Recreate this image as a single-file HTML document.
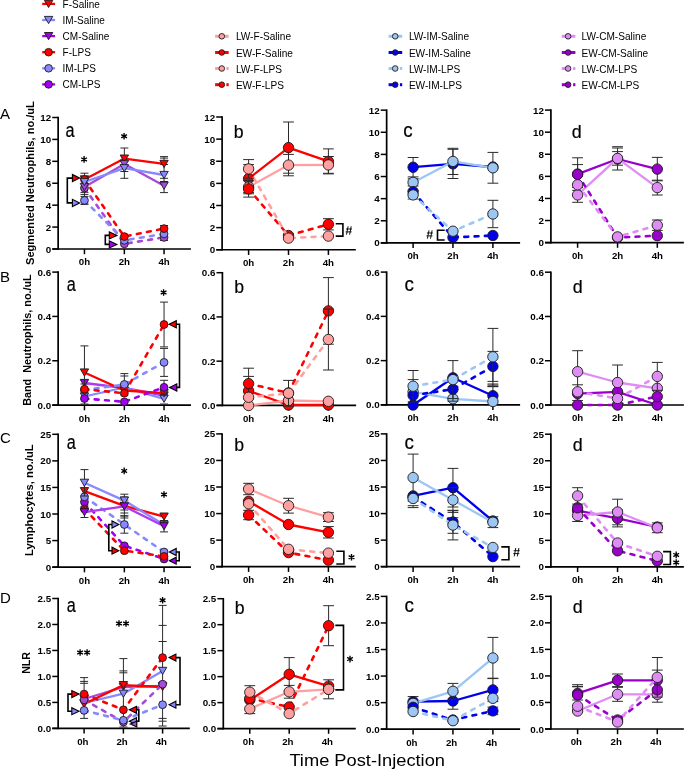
<!DOCTYPE html>
<html><head><meta charset="utf-8"><style>
html,body{margin:0;padding:0;background:#fff;}
body{width:685px;height:770px;overflow:hidden;font-family:"Liberation Sans",sans-serif;}
svg{display:block;will-change:transform;}
</style></head><body>
<svg width="685" height="770" viewBox="0 0 685 770">
<rect width="685" height="770" fill="#fff"/>
<line x1="42.2" y1="3.9" x2="55.1" y2="3.9" stroke="#FF0000" stroke-width="2.3" />
<polygon points="44.4,0.3 52.8,0.3 48.6,7.5" fill="#FF0000" stroke="#1a1a1a" stroke-width="0.9" stroke-linejoin="miter"/>
<text x="62.6" y="7.9" font-family='"Liberation Sans", sans-serif' font-size="10" font-weight="normal" text-anchor="start" >F-Saline</text>
<line x1="42.2" y1="20" x2="55.1" y2="20" stroke="#8888FF" stroke-width="2.3" />
<polygon points="44.4,16.4 52.8,16.4 48.6,23.6" fill="#8888FF" stroke="#1a1a1a" stroke-width="0.9" stroke-linejoin="miter"/>
<text x="62.6" y="24" font-family='"Liberation Sans", sans-serif' font-size="10" font-weight="normal" text-anchor="start" >IM-Saline</text>
<line x1="42.2" y1="36.1" x2="55.1" y2="36.1" stroke="#A000EE" stroke-width="2.3" />
<polygon points="44.4,32.5 52.8,32.5 48.6,39.7" fill="#A000EE" stroke="#1a1a1a" stroke-width="0.9" stroke-linejoin="miter"/>
<text x="62.6" y="40.1" font-family='"Liberation Sans", sans-serif' font-size="10" font-weight="normal" text-anchor="start" >CM-Saline</text>
<line x1="42.2" y1="52.2" x2="55.1" y2="52.2" stroke="#FF0000" stroke-width="2.3" />
<circle cx="48.6" cy="52.2" r="3.8" fill="#FF0000" stroke="#1a1a1a" stroke-width="0.9"/>
<text x="62.6" y="56.2" font-family='"Liberation Sans", sans-serif' font-size="10" font-weight="normal" text-anchor="start" >F-LPS</text>
<line x1="42.2" y1="68.3" x2="55.1" y2="68.3" stroke="#8888FF" stroke-width="2.3" />
<circle cx="48.6" cy="68.3" r="3.8" fill="#8888FF" stroke="#1a1a1a" stroke-width="0.9"/>
<text x="62.6" y="72.3" font-family='"Liberation Sans", sans-serif' font-size="10" font-weight="normal" text-anchor="start" >IM-LPS</text>
<line x1="42.2" y1="84.4" x2="55.1" y2="84.4" stroke="#A000EE" stroke-width="2.3" />
<circle cx="48.6" cy="84.4" r="3.8" fill="#A000EE" stroke="#1a1a1a" stroke-width="0.9"/>
<text x="62.6" y="88.4" font-family='"Liberation Sans", sans-serif' font-size="10" font-weight="normal" text-anchor="start" >CM-LPS</text>
<line x1="215.1" y1="36.3" x2="228.7" y2="36.3" stroke="#FFA0A0" stroke-width="3" />
<circle cx="221.8" cy="36.3" r="2.8" fill="#FFA0A0" stroke="#1a1a1a" stroke-width="0.9"/>
<text x="235.9" y="40.3" font-family='"Liberation Sans", sans-serif' font-size="10.1" font-weight="normal" text-anchor="start" >LW-F-Saline</text>
<line x1="215.1" y1="52.5" x2="228.7" y2="52.5" stroke="#FF0000" stroke-width="3" />
<circle cx="221.8" cy="52.5" r="2.8" fill="#FF0000" stroke="#1a1a1a" stroke-width="0.9"/>
<text x="235.9" y="56.5" font-family='"Liberation Sans", sans-serif' font-size="10.1" font-weight="normal" text-anchor="start" >EW-F-Saline</text>
<line x1="215.1" y1="68.5" x2="221.8" y2="68.5" stroke="#FFA0A0" stroke-width="3" />
<line x1="226.4" y1="68.5" x2="228.7" y2="68.5" stroke="#FFA0A0" stroke-width="3" />
<circle cx="221.8" cy="68.5" r="2.8" fill="#FFA0A0" stroke="#1a1a1a" stroke-width="0.9"/>
<text x="235.9" y="72.5" font-family='"Liberation Sans", sans-serif' font-size="10.1" font-weight="normal" text-anchor="start" >LW-F-LPS</text>
<line x1="215.1" y1="84.7" x2="221.8" y2="84.7" stroke="#FF0000" stroke-width="3" />
<line x1="226.4" y1="84.7" x2="228.7" y2="84.7" stroke="#FF0000" stroke-width="3" />
<circle cx="221.8" cy="84.7" r="2.8" fill="#FF0000" stroke="#1a1a1a" stroke-width="0.9"/>
<text x="235.9" y="88.7" font-family='"Liberation Sans", sans-serif' font-size="10.1" font-weight="normal" text-anchor="start" >EW-F-LPS</text>
<line x1="388.6" y1="36.3" x2="402.2" y2="36.3" stroke="#9CC6F4" stroke-width="3" />
<circle cx="395.2" cy="36.3" r="2.8" fill="#9CC6F4" stroke="#1a1a1a" stroke-width="0.9"/>
<text x="408.9" y="40.3" font-family='"Liberation Sans", sans-serif' font-size="10.1" font-weight="normal" text-anchor="start" >LW-IM-Saline</text>
<line x1="388.6" y1="52.5" x2="402.2" y2="52.5" stroke="#0000EE" stroke-width="3" />
<circle cx="395.2" cy="52.5" r="2.8" fill="#0000EE" stroke="#1a1a1a" stroke-width="0.9"/>
<text x="408.9" y="56.5" font-family='"Liberation Sans", sans-serif' font-size="10.1" font-weight="normal" text-anchor="start" >EW-IM-Saline</text>
<line x1="388.6" y1="68.5" x2="395.2" y2="68.5" stroke="#9CC6F4" stroke-width="3" />
<line x1="399.9" y1="68.5" x2="402.2" y2="68.5" stroke="#9CC6F4" stroke-width="3" />
<circle cx="395.2" cy="68.5" r="2.8" fill="#9CC6F4" stroke="#1a1a1a" stroke-width="0.9"/>
<text x="408.9" y="72.5" font-family='"Liberation Sans", sans-serif' font-size="10.1" font-weight="normal" text-anchor="start" >LW-IM-LPS</text>
<line x1="388.6" y1="84.7" x2="395.2" y2="84.7" stroke="#0000EE" stroke-width="3" />
<line x1="399.9" y1="84.7" x2="402.2" y2="84.7" stroke="#0000EE" stroke-width="3" />
<circle cx="395.2" cy="84.7" r="2.8" fill="#0000EE" stroke="#1a1a1a" stroke-width="0.9"/>
<text x="408.9" y="88.7" font-family='"Liberation Sans", sans-serif' font-size="10.1" font-weight="normal" text-anchor="start" >EW-IM-LPS</text>
<line x1="561.8" y1="36.3" x2="575.4" y2="36.3" stroke="#E08CF5" stroke-width="3" />
<circle cx="568.1" cy="36.3" r="2.8" fill="#E08CF5" stroke="#1a1a1a" stroke-width="0.9"/>
<text x="581.6" y="40.3" font-family='"Liberation Sans", sans-serif' font-size="10.1" font-weight="normal" text-anchor="start" >LW-CM-Saline</text>
<line x1="561.8" y1="52.5" x2="575.4" y2="52.5" stroke="#9900CC" stroke-width="3" />
<circle cx="568.1" cy="52.5" r="2.8" fill="#9900CC" stroke="#1a1a1a" stroke-width="0.9"/>
<text x="581.6" y="56.5" font-family='"Liberation Sans", sans-serif' font-size="10.1" font-weight="normal" text-anchor="start" >EW-CM-Saline</text>
<line x1="561.8" y1="68.5" x2="568.1" y2="68.5" stroke="#E08CF5" stroke-width="3" />
<line x1="573.1" y1="68.5" x2="575.4" y2="68.5" stroke="#E08CF5" stroke-width="3" />
<circle cx="568.1" cy="68.5" r="2.8" fill="#E08CF5" stroke="#1a1a1a" stroke-width="0.9"/>
<text x="581.6" y="72.5" font-family='"Liberation Sans", sans-serif' font-size="10.1" font-weight="normal" text-anchor="start" >LW-CM-LPS</text>
<line x1="561.8" y1="84.7" x2="568.1" y2="84.7" stroke="#9900CC" stroke-width="3" />
<line x1="573.1" y1="84.7" x2="575.4" y2="84.7" stroke="#9900CC" stroke-width="3" />
<circle cx="568.1" cy="84.7" r="2.8" fill="#9900CC" stroke="#1a1a1a" stroke-width="0.9"/>
<text x="581.6" y="88.7" font-family='"Liberation Sans", sans-serif' font-size="10.1" font-weight="normal" text-anchor="start" >EW-CM-LPS</text>
<text x="0" y="118.8" font-family='"Liberation Sans", sans-serif' font-size="15" font-weight="normal" text-anchor="start" >A</text>
<text x="0" y="282.2" font-family='"Liberation Sans", sans-serif' font-size="15" font-weight="normal" text-anchor="start" >B</text>
<text x="0" y="443.4" font-family='"Liberation Sans", sans-serif' font-size="15" font-weight="normal" text-anchor="start" >C</text>
<text x="0" y="603" font-family='"Liberation Sans", sans-serif' font-size="15" font-weight="normal" text-anchor="start" >D</text>
<text x="0" y="136.7" font-family='"Liberation Sans", sans-serif' font-size="19.8" stroke="#000" stroke-width="0.2" transform="translate(65.6,0) scale(0.82,1)">a</text>
<text x="0" y="138.4" font-family='"Liberation Sans", sans-serif' font-size="19" stroke="#000" stroke-width="0.2" transform="translate(233.8,0) scale(0.93,1)">b</text>
<text x="0" y="136.9" font-family='"Liberation Sans", sans-serif' font-size="19.8" stroke="#000" stroke-width="0.2" transform="translate(403.3,0) scale(0.95,1)">c</text>
<text x="0" y="138.4" font-family='"Liberation Sans", sans-serif' font-size="19" stroke="#000" stroke-width="0.2" transform="translate(571.7,0) scale(0.94,1)">d</text>
<text x="0" y="291" font-family='"Liberation Sans", sans-serif' font-size="19.8" stroke="#000" stroke-width="0.2" transform="translate(66.8,0) scale(0.82,1)">a</text>
<text x="0" y="292.8" font-family='"Liberation Sans", sans-serif' font-size="19" stroke="#000" stroke-width="0.2" transform="translate(234.2,0) scale(0.93,1)">b</text>
<text x="0" y="291" font-family='"Liberation Sans", sans-serif' font-size="19.8" stroke="#000" stroke-width="0.2" transform="translate(404.4,0) scale(0.95,1)">c</text>
<text x="0" y="292.8" font-family='"Liberation Sans", sans-serif' font-size="19" stroke="#000" stroke-width="0.2" transform="translate(572.8,0) scale(0.94,1)">d</text>
<text x="0" y="449.5" font-family='"Liberation Sans", sans-serif' font-size="19.8" stroke="#000" stroke-width="0.2" transform="translate(66.8,0) scale(0.82,1)">a</text>
<text x="0" y="451" font-family='"Liberation Sans", sans-serif' font-size="19" stroke="#000" stroke-width="0.2" transform="translate(234.2,0) scale(0.93,1)">b</text>
<text x="0" y="448.9" font-family='"Liberation Sans", sans-serif' font-size="19.8" stroke="#000" stroke-width="0.2" transform="translate(404.4,0) scale(0.95,1)">c</text>
<text x="0" y="451" font-family='"Liberation Sans", sans-serif' font-size="19" stroke="#000" stroke-width="0.2" transform="translate(572.8,0) scale(0.94,1)">d</text>
<text x="0" y="612.1" font-family='"Liberation Sans", sans-serif' font-size="19.8" stroke="#000" stroke-width="0.2" transform="translate(66.8,0) scale(0.82,1)">a</text>
<text x="0" y="613.9" font-family='"Liberation Sans", sans-serif' font-size="19" stroke="#000" stroke-width="0.2" transform="translate(234.8,0) scale(0.93,1)">b</text>
<text x="0" y="612.1" font-family='"Liberation Sans", sans-serif' font-size="19.8" stroke="#000" stroke-width="0.2" transform="translate(404.4,0) scale(0.95,1)">c</text>
<text x="0" y="613" font-family='"Liberation Sans", sans-serif' font-size="19" stroke="#000" stroke-width="0.2" transform="translate(572.8,0) scale(0.94,1)">d</text>
<text transform="translate(34.1,265) rotate(-90)" font-family='"Liberation Sans", sans-serif' font-size="11" font-weight="bold" textLength="163.9" lengthAdjust="spacingAndGlyphs" xml:space="preserve">Segmented Neutrophils, no./uL</text>
<text transform="translate(31.1,405.8) rotate(-90)" font-family='"Liberation Sans", sans-serif' font-size="10.8" font-weight="bold" textLength="131.5" lengthAdjust="spacingAndGlyphs" xml:space="preserve">Band  Neutrophils, no./uL</text>
<text transform="translate(33.2,556) rotate(-90)" font-family='"Liberation Sans", sans-serif' font-size="11.2" font-weight="bold" textLength="111.7" lengthAdjust="spacingAndGlyphs" xml:space="preserve">Lymphocytes, no./uL</text>
<text transform="translate(30.1,673.8) rotate(-90)" font-family='"Liberation Sans", sans-serif' font-size="10.8" font-weight="bold" textLength="21.8" lengthAdjust="spacingAndGlyphs" xml:space="preserve">NLR</text>
<text x="289.4" y="766.3" font-family='"Liberation Sans", sans-serif' font-size="16.2" font-weight="normal" text-anchor="start" textLength="155.6" lengthAdjust="spacingAndGlyphs" >Time Post-Injection</text>
<line x1="58.15" y1="116.75" x2="58.15" y2="249.85" stroke="#000" stroke-width="1.7" />
<line x1="52.25" y1="249" x2="190.95" y2="249" stroke="#000" stroke-width="1.7" />
<line x1="52.25" y1="249" x2="58.15" y2="249" stroke="#000" stroke-width="1.5" />
<text x="51.15" y="252.5" font-family='"Liberation Sans", sans-serif' font-size="9.8" font-weight="bold" text-anchor="end" >0</text>
<line x1="52.25" y1="227.08" x2="58.15" y2="227.08" stroke="#000" stroke-width="1.5" />
<text x="51.15" y="230.58" font-family='"Liberation Sans", sans-serif' font-size="9.8" font-weight="bold" text-anchor="end" >2</text>
<line x1="52.25" y1="205.17" x2="58.15" y2="205.17" stroke="#000" stroke-width="1.5" />
<text x="51.15" y="208.67" font-family='"Liberation Sans", sans-serif' font-size="9.8" font-weight="bold" text-anchor="end" >4</text>
<line x1="52.25" y1="183.25" x2="58.15" y2="183.25" stroke="#000" stroke-width="1.5" />
<text x="51.15" y="186.75" font-family='"Liberation Sans", sans-serif' font-size="9.8" font-weight="bold" text-anchor="end" >6</text>
<line x1="52.25" y1="161.33" x2="58.15" y2="161.33" stroke="#000" stroke-width="1.5" />
<text x="51.15" y="164.83" font-family='"Liberation Sans", sans-serif' font-size="9.8" font-weight="bold" text-anchor="end" >8</text>
<line x1="52.25" y1="139.42" x2="58.15" y2="139.42" stroke="#000" stroke-width="1.5" />
<text x="51.15" y="142.92" font-family='"Liberation Sans", sans-serif' font-size="9.8" font-weight="bold" text-anchor="end" >10</text>
<line x1="52.25" y1="117.5" x2="58.15" y2="117.5" stroke="#000" stroke-width="1.5" />
<text x="51.15" y="121" font-family='"Liberation Sans", sans-serif' font-size="9.8" font-weight="bold" text-anchor="end" >12</text>
<line x1="84.45" y1="249" x2="84.45" y2="254.2" stroke="#000" stroke-width="1.5" />
<text x="84.45" y="265.4" font-family='"Liberation Sans", sans-serif' font-size="9.7" font-weight="bold" text-anchor="middle" >0h</text>
<line x1="124.35" y1="249" x2="124.35" y2="254.2" stroke="#000" stroke-width="1.5" />
<text x="124.35" y="265.4" font-family='"Liberation Sans", sans-serif' font-size="9.7" font-weight="bold" text-anchor="middle" >2h</text>
<line x1="164.05" y1="249" x2="164.05" y2="254.2" stroke="#000" stroke-width="1.5" />
<text x="164.05" y="265.4" font-family='"Liberation Sans", sans-serif' font-size="9.7" font-weight="bold" text-anchor="middle" >4h</text>
<line x1="222.1" y1="116.25" x2="222.1" y2="250.6" stroke="#000" stroke-width="1.7" />
<line x1="216.2" y1="249.75" x2="355.8" y2="249.75" stroke="#000" stroke-width="1.7" />
<line x1="216.2" y1="249.75" x2="222.1" y2="249.75" stroke="#000" stroke-width="1.5" />
<text x="215.1" y="253.25" font-family='"Liberation Sans", sans-serif' font-size="9.8" font-weight="bold" text-anchor="end" >0</text>
<line x1="216.2" y1="227.62" x2="222.1" y2="227.62" stroke="#000" stroke-width="1.5" />
<text x="215.1" y="231.12" font-family='"Liberation Sans", sans-serif' font-size="9.8" font-weight="bold" text-anchor="end" >2</text>
<line x1="216.2" y1="205.5" x2="222.1" y2="205.5" stroke="#000" stroke-width="1.5" />
<text x="215.1" y="209" font-family='"Liberation Sans", sans-serif' font-size="9.8" font-weight="bold" text-anchor="end" >4</text>
<line x1="216.2" y1="183.38" x2="222.1" y2="183.38" stroke="#000" stroke-width="1.5" />
<text x="215.1" y="186.88" font-family='"Liberation Sans", sans-serif' font-size="9.8" font-weight="bold" text-anchor="end" >6</text>
<line x1="216.2" y1="161.25" x2="222.1" y2="161.25" stroke="#000" stroke-width="1.5" />
<text x="215.1" y="164.75" font-family='"Liberation Sans", sans-serif' font-size="9.8" font-weight="bold" text-anchor="end" >8</text>
<line x1="216.2" y1="139.12" x2="222.1" y2="139.12" stroke="#000" stroke-width="1.5" />
<text x="215.1" y="142.62" font-family='"Liberation Sans", sans-serif' font-size="9.8" font-weight="bold" text-anchor="end" >10</text>
<line x1="216.2" y1="117" x2="222.1" y2="117" stroke="#000" stroke-width="1.5" />
<text x="215.1" y="120.5" font-family='"Liberation Sans", sans-serif' font-size="9.8" font-weight="bold" text-anchor="end" >12</text>
<line x1="248.6" y1="249.75" x2="248.6" y2="254.95" stroke="#000" stroke-width="1.5" />
<text x="248.6" y="266.15" font-family='"Liberation Sans", sans-serif' font-size="9.7" font-weight="bold" text-anchor="middle" >0h</text>
<line x1="288.5" y1="249.75" x2="288.5" y2="254.95" stroke="#000" stroke-width="1.5" />
<text x="288.5" y="266.15" font-family='"Liberation Sans", sans-serif' font-size="9.7" font-weight="bold" text-anchor="middle" >2h</text>
<line x1="328.4" y1="249.75" x2="328.4" y2="254.95" stroke="#000" stroke-width="1.5" />
<text x="328.4" y="266.15" font-family='"Liberation Sans", sans-serif' font-size="9.7" font-weight="bold" text-anchor="middle" >4h</text>
<line x1="386.65" y1="109.4" x2="386.65" y2="243.75" stroke="#000" stroke-width="1.7" />
<line x1="380.75" y1="242.9" x2="520.1" y2="242.9" stroke="#000" stroke-width="1.7" />
<line x1="380.75" y1="242.9" x2="386.65" y2="242.9" stroke="#000" stroke-width="1.5" />
<text x="379.65" y="246.4" font-family='"Liberation Sans", sans-serif' font-size="9.8" font-weight="bold" text-anchor="end" >0</text>
<line x1="380.75" y1="220.78" x2="386.65" y2="220.78" stroke="#000" stroke-width="1.5" />
<text x="379.65" y="224.28" font-family='"Liberation Sans", sans-serif' font-size="9.8" font-weight="bold" text-anchor="end" >2</text>
<line x1="380.75" y1="198.65" x2="386.65" y2="198.65" stroke="#000" stroke-width="1.5" />
<text x="379.65" y="202.15" font-family='"Liberation Sans", sans-serif' font-size="9.8" font-weight="bold" text-anchor="end" >4</text>
<line x1="380.75" y1="176.53" x2="386.65" y2="176.53" stroke="#000" stroke-width="1.5" />
<text x="379.65" y="180.03" font-family='"Liberation Sans", sans-serif' font-size="9.8" font-weight="bold" text-anchor="end" >6</text>
<line x1="380.75" y1="154.4" x2="386.65" y2="154.4" stroke="#000" stroke-width="1.5" />
<text x="379.65" y="157.9" font-family='"Liberation Sans", sans-serif' font-size="9.8" font-weight="bold" text-anchor="end" >8</text>
<line x1="380.75" y1="132.28" x2="386.65" y2="132.28" stroke="#000" stroke-width="1.5" />
<text x="379.65" y="135.78" font-family='"Liberation Sans", sans-serif' font-size="9.8" font-weight="bold" text-anchor="end" >10</text>
<line x1="380.75" y1="110.15" x2="386.65" y2="110.15" stroke="#000" stroke-width="1.5" />
<text x="379.65" y="113.65" font-family='"Liberation Sans", sans-serif' font-size="9.8" font-weight="bold" text-anchor="end" >12</text>
<line x1="413.1" y1="242.9" x2="413.1" y2="248.1" stroke="#000" stroke-width="1.5" />
<text x="413.1" y="259.3" font-family='"Liberation Sans", sans-serif' font-size="9.7" font-weight="bold" text-anchor="middle" >0h</text>
<line x1="452.95" y1="242.9" x2="452.95" y2="248.1" stroke="#000" stroke-width="1.5" />
<text x="452.95" y="259.3" font-family='"Liberation Sans", sans-serif' font-size="9.7" font-weight="bold" text-anchor="middle" >2h</text>
<line x1="492.9" y1="242.9" x2="492.9" y2="248.1" stroke="#000" stroke-width="1.5" />
<text x="492.9" y="259.3" font-family='"Liberation Sans", sans-serif' font-size="9.7" font-weight="bold" text-anchor="middle" >4h</text>
<line x1="550.9" y1="109.35" x2="550.9" y2="243.45" stroke="#000" stroke-width="1.7" />
<line x1="545" y1="242.6" x2="683.9" y2="242.6" stroke="#000" stroke-width="1.7" />
<line x1="545" y1="242.6" x2="550.9" y2="242.6" stroke="#000" stroke-width="1.5" />
<text x="543.9" y="246.1" font-family='"Liberation Sans", sans-serif' font-size="9.8" font-weight="bold" text-anchor="end" >0</text>
<line x1="545" y1="220.52" x2="550.9" y2="220.52" stroke="#000" stroke-width="1.5" />
<text x="543.9" y="224.02" font-family='"Liberation Sans", sans-serif' font-size="9.8" font-weight="bold" text-anchor="end" >2</text>
<line x1="545" y1="198.43" x2="550.9" y2="198.43" stroke="#000" stroke-width="1.5" />
<text x="543.9" y="201.93" font-family='"Liberation Sans", sans-serif' font-size="9.8" font-weight="bold" text-anchor="end" >4</text>
<line x1="545" y1="176.35" x2="550.9" y2="176.35" stroke="#000" stroke-width="1.5" />
<text x="543.9" y="179.85" font-family='"Liberation Sans", sans-serif' font-size="9.8" font-weight="bold" text-anchor="end" >6</text>
<line x1="545" y1="154.27" x2="550.9" y2="154.27" stroke="#000" stroke-width="1.5" />
<text x="543.9" y="157.77" font-family='"Liberation Sans", sans-serif' font-size="9.8" font-weight="bold" text-anchor="end" >8</text>
<line x1="545" y1="132.18" x2="550.9" y2="132.18" stroke="#000" stroke-width="1.5" />
<text x="543.9" y="135.68" font-family='"Liberation Sans", sans-serif' font-size="9.8" font-weight="bold" text-anchor="end" >10</text>
<line x1="545" y1="110.1" x2="550.9" y2="110.1" stroke="#000" stroke-width="1.5" />
<text x="543.9" y="113.6" font-family='"Liberation Sans", sans-serif' font-size="9.8" font-weight="bold" text-anchor="end" >12</text>
<line x1="577.6" y1="242.6" x2="577.6" y2="247.8" stroke="#000" stroke-width="1.5" />
<text x="577.6" y="259" font-family='"Liberation Sans", sans-serif' font-size="9.7" font-weight="bold" text-anchor="middle" >0h</text>
<line x1="617.55" y1="242.6" x2="617.55" y2="247.8" stroke="#000" stroke-width="1.5" />
<text x="617.55" y="259" font-family='"Liberation Sans", sans-serif' font-size="9.7" font-weight="bold" text-anchor="middle" >2h</text>
<line x1="657.3" y1="242.6" x2="657.3" y2="247.8" stroke="#000" stroke-width="1.5" />
<text x="657.3" y="259" font-family='"Liberation Sans", sans-serif' font-size="9.7" font-weight="bold" text-anchor="middle" >4h</text>
<line x1="58.15" y1="271.35" x2="58.15" y2="405.95" stroke="#000" stroke-width="1.7" />
<line x1="52.25" y1="405.1" x2="190.95" y2="405.1" stroke="#000" stroke-width="1.7" />
<line x1="52.25" y1="405.1" x2="58.15" y2="405.1" stroke="#000" stroke-width="1.5" />
<text x="51.15" y="408.6" font-family='"Liberation Sans", sans-serif' font-size="9.8" font-weight="bold" text-anchor="end" >0.0</text>
<line x1="52.25" y1="360.77" x2="58.15" y2="360.77" stroke="#000" stroke-width="1.5" />
<text x="51.15" y="364.27" font-family='"Liberation Sans", sans-serif' font-size="9.8" font-weight="bold" text-anchor="end" >0.2</text>
<line x1="52.25" y1="316.43" x2="58.15" y2="316.43" stroke="#000" stroke-width="1.5" />
<text x="51.15" y="319.93" font-family='"Liberation Sans", sans-serif' font-size="9.8" font-weight="bold" text-anchor="end" >0.4</text>
<line x1="52.25" y1="272.1" x2="58.15" y2="272.1" stroke="#000" stroke-width="1.5" />
<text x="51.15" y="275.6" font-family='"Liberation Sans", sans-serif' font-size="9.8" font-weight="bold" text-anchor="end" >0.6</text>
<line x1="84.45" y1="405.1" x2="84.45" y2="410.3" stroke="#000" stroke-width="1.5" />
<text x="84.45" y="421.5" font-family='"Liberation Sans", sans-serif' font-size="9.7" font-weight="bold" text-anchor="middle" >0h</text>
<line x1="124.35" y1="405.1" x2="124.35" y2="410.3" stroke="#000" stroke-width="1.5" />
<text x="124.35" y="421.5" font-family='"Liberation Sans", sans-serif' font-size="9.7" font-weight="bold" text-anchor="middle" >2h</text>
<line x1="164.05" y1="405.1" x2="164.05" y2="410.3" stroke="#000" stroke-width="1.5" />
<text x="164.05" y="421.5" font-family='"Liberation Sans", sans-serif' font-size="9.7" font-weight="bold" text-anchor="middle" >4h</text>
<line x1="222.4" y1="271.95" x2="222.4" y2="406.25" stroke="#000" stroke-width="1.7" />
<line x1="216.5" y1="405.4" x2="356.1" y2="405.4" stroke="#000" stroke-width="1.7" />
<line x1="216.5" y1="405.4" x2="222.4" y2="405.4" stroke="#000" stroke-width="1.5" />
<text x="215.4" y="408.9" font-family='"Liberation Sans", sans-serif' font-size="9.8" font-weight="bold" text-anchor="end" >0.0</text>
<line x1="216.5" y1="361.17" x2="222.4" y2="361.17" stroke="#000" stroke-width="1.5" />
<text x="215.4" y="364.67" font-family='"Liberation Sans", sans-serif' font-size="9.8" font-weight="bold" text-anchor="end" >0.2</text>
<line x1="216.5" y1="316.93" x2="222.4" y2="316.93" stroke="#000" stroke-width="1.5" />
<text x="215.4" y="320.43" font-family='"Liberation Sans", sans-serif' font-size="9.8" font-weight="bold" text-anchor="end" >0.4</text>
<line x1="216.5" y1="272.7" x2="222.4" y2="272.7" stroke="#000" stroke-width="1.5" />
<text x="215.4" y="276.2" font-family='"Liberation Sans", sans-serif' font-size="9.8" font-weight="bold" text-anchor="end" >0.6</text>
<line x1="248.6" y1="405.4" x2="248.6" y2="410.6" stroke="#000" stroke-width="1.5" />
<text x="248.6" y="421.8" font-family='"Liberation Sans", sans-serif' font-size="9.7" font-weight="bold" text-anchor="middle" >0h</text>
<line x1="288.5" y1="405.4" x2="288.5" y2="410.6" stroke="#000" stroke-width="1.5" />
<text x="288.5" y="421.8" font-family='"Liberation Sans", sans-serif' font-size="9.7" font-weight="bold" text-anchor="middle" >2h</text>
<line x1="328.4" y1="405.4" x2="328.4" y2="410.6" stroke="#000" stroke-width="1.5" />
<text x="328.4" y="421.8" font-family='"Liberation Sans", sans-serif' font-size="9.7" font-weight="bold" text-anchor="middle" >4h</text>
<line x1="386.65" y1="271.35" x2="386.65" y2="405.75" stroke="#000" stroke-width="1.7" />
<line x1="380.75" y1="404.9" x2="520.1" y2="404.9" stroke="#000" stroke-width="1.7" />
<line x1="380.75" y1="404.9" x2="386.65" y2="404.9" stroke="#000" stroke-width="1.5" />
<text x="379.65" y="408.4" font-family='"Liberation Sans", sans-serif' font-size="9.8" font-weight="bold" text-anchor="end" >0.0</text>
<line x1="380.75" y1="360.63" x2="386.65" y2="360.63" stroke="#000" stroke-width="1.5" />
<text x="379.65" y="364.13" font-family='"Liberation Sans", sans-serif' font-size="9.8" font-weight="bold" text-anchor="end" >0.2</text>
<line x1="380.75" y1="316.37" x2="386.65" y2="316.37" stroke="#000" stroke-width="1.5" />
<text x="379.65" y="319.87" font-family='"Liberation Sans", sans-serif' font-size="9.8" font-weight="bold" text-anchor="end" >0.4</text>
<line x1="380.75" y1="272.1" x2="386.65" y2="272.1" stroke="#000" stroke-width="1.5" />
<text x="379.65" y="275.6" font-family='"Liberation Sans", sans-serif' font-size="9.8" font-weight="bold" text-anchor="end" >0.6</text>
<line x1="413.1" y1="404.9" x2="413.1" y2="410.1" stroke="#000" stroke-width="1.5" />
<text x="413.1" y="421.3" font-family='"Liberation Sans", sans-serif' font-size="9.7" font-weight="bold" text-anchor="middle" >0h</text>
<line x1="452.95" y1="404.9" x2="452.95" y2="410.1" stroke="#000" stroke-width="1.5" />
<text x="452.95" y="421.3" font-family='"Liberation Sans", sans-serif' font-size="9.7" font-weight="bold" text-anchor="middle" >2h</text>
<line x1="492.9" y1="404.9" x2="492.9" y2="410.1" stroke="#000" stroke-width="1.5" />
<text x="492.9" y="421.3" font-family='"Liberation Sans", sans-serif' font-size="9.7" font-weight="bold" text-anchor="middle" >4h</text>
<line x1="550.9" y1="271.45" x2="550.9" y2="405.85" stroke="#000" stroke-width="1.7" />
<line x1="545" y1="405" x2="683.9" y2="405" stroke="#000" stroke-width="1.7" />
<line x1="545" y1="405" x2="550.9" y2="405" stroke="#000" stroke-width="1.5" />
<text x="543.9" y="408.5" font-family='"Liberation Sans", sans-serif' font-size="9.8" font-weight="bold" text-anchor="end" >0.0</text>
<line x1="545" y1="360.73" x2="550.9" y2="360.73" stroke="#000" stroke-width="1.5" />
<text x="543.9" y="364.23" font-family='"Liberation Sans", sans-serif' font-size="9.8" font-weight="bold" text-anchor="end" >0.2</text>
<line x1="545" y1="316.47" x2="550.9" y2="316.47" stroke="#000" stroke-width="1.5" />
<text x="543.9" y="319.97" font-family='"Liberation Sans", sans-serif' font-size="9.8" font-weight="bold" text-anchor="end" >0.4</text>
<line x1="545" y1="272.2" x2="550.9" y2="272.2" stroke="#000" stroke-width="1.5" />
<text x="543.9" y="275.7" font-family='"Liberation Sans", sans-serif' font-size="9.8" font-weight="bold" text-anchor="end" >0.6</text>
<line x1="577.6" y1="405" x2="577.6" y2="410.2" stroke="#000" stroke-width="1.5" />
<text x="577.6" y="421.4" font-family='"Liberation Sans", sans-serif' font-size="9.7" font-weight="bold" text-anchor="middle" >0h</text>
<line x1="617.55" y1="405" x2="617.55" y2="410.2" stroke="#000" stroke-width="1.5" />
<text x="617.55" y="421.4" font-family='"Liberation Sans", sans-serif' font-size="9.7" font-weight="bold" text-anchor="middle" >2h</text>
<line x1="657.3" y1="405" x2="657.3" y2="410.2" stroke="#000" stroke-width="1.5" />
<text x="657.3" y="421.4" font-family='"Liberation Sans", sans-serif' font-size="9.7" font-weight="bold" text-anchor="middle" >4h</text>
<line x1="58.15" y1="433.55" x2="58.15" y2="568" stroke="#000" stroke-width="1.7" />
<line x1="52.25" y1="567.15" x2="190.95" y2="567.15" stroke="#000" stroke-width="1.7" />
<line x1="52.25" y1="567.15" x2="58.15" y2="567.15" stroke="#000" stroke-width="1.5" />
<text x="51.15" y="570.65" font-family='"Liberation Sans", sans-serif' font-size="9.8" font-weight="bold" text-anchor="end" >0</text>
<line x1="52.25" y1="540.58" x2="58.15" y2="540.58" stroke="#000" stroke-width="1.5" />
<text x="51.15" y="544.08" font-family='"Liberation Sans", sans-serif' font-size="9.8" font-weight="bold" text-anchor="end" >5</text>
<line x1="52.25" y1="514.01" x2="58.15" y2="514.01" stroke="#000" stroke-width="1.5" />
<text x="51.15" y="517.51" font-family='"Liberation Sans", sans-serif' font-size="9.8" font-weight="bold" text-anchor="end" >10</text>
<line x1="52.25" y1="487.44" x2="58.15" y2="487.44" stroke="#000" stroke-width="1.5" />
<text x="51.15" y="490.94" font-family='"Liberation Sans", sans-serif' font-size="9.8" font-weight="bold" text-anchor="end" >15</text>
<line x1="52.25" y1="460.87" x2="58.15" y2="460.87" stroke="#000" stroke-width="1.5" />
<text x="51.15" y="464.37" font-family='"Liberation Sans", sans-serif' font-size="9.8" font-weight="bold" text-anchor="end" >20</text>
<line x1="52.25" y1="434.3" x2="58.15" y2="434.3" stroke="#000" stroke-width="1.5" />
<text x="51.15" y="437.8" font-family='"Liberation Sans", sans-serif' font-size="9.8" font-weight="bold" text-anchor="end" >25</text>
<line x1="84.45" y1="567.15" x2="84.45" y2="572.35" stroke="#000" stroke-width="1.5" />
<text x="84.45" y="583.55" font-family='"Liberation Sans", sans-serif' font-size="9.7" font-weight="bold" text-anchor="middle" >0h</text>
<line x1="124.35" y1="567.15" x2="124.35" y2="572.35" stroke="#000" stroke-width="1.5" />
<text x="124.35" y="583.55" font-family='"Liberation Sans", sans-serif' font-size="9.7" font-weight="bold" text-anchor="middle" >2h</text>
<line x1="164.05" y1="567.15" x2="164.05" y2="572.35" stroke="#000" stroke-width="1.5" />
<text x="164.05" y="583.55" font-family='"Liberation Sans", sans-serif' font-size="9.7" font-weight="bold" text-anchor="middle" >4h</text>
<line x1="222.1" y1="433.15" x2="222.1" y2="567.55" stroke="#000" stroke-width="1.7" />
<line x1="216.2" y1="566.7" x2="355.8" y2="566.7" stroke="#000" stroke-width="1.7" />
<line x1="216.2" y1="566.7" x2="222.1" y2="566.7" stroke="#000" stroke-width="1.5" />
<text x="215.1" y="570.2" font-family='"Liberation Sans", sans-serif' font-size="9.8" font-weight="bold" text-anchor="end" >0</text>
<line x1="216.2" y1="540.14" x2="222.1" y2="540.14" stroke="#000" stroke-width="1.5" />
<text x="215.1" y="543.64" font-family='"Liberation Sans", sans-serif' font-size="9.8" font-weight="bold" text-anchor="end" >5</text>
<line x1="216.2" y1="513.58" x2="222.1" y2="513.58" stroke="#000" stroke-width="1.5" />
<text x="215.1" y="517.08" font-family='"Liberation Sans", sans-serif' font-size="9.8" font-weight="bold" text-anchor="end" >10</text>
<line x1="216.2" y1="487.02" x2="222.1" y2="487.02" stroke="#000" stroke-width="1.5" />
<text x="215.1" y="490.52" font-family='"Liberation Sans", sans-serif' font-size="9.8" font-weight="bold" text-anchor="end" >15</text>
<line x1="216.2" y1="460.46" x2="222.1" y2="460.46" stroke="#000" stroke-width="1.5" />
<text x="215.1" y="463.96" font-family='"Liberation Sans", sans-serif' font-size="9.8" font-weight="bold" text-anchor="end" >20</text>
<line x1="216.2" y1="433.9" x2="222.1" y2="433.9" stroke="#000" stroke-width="1.5" />
<text x="215.1" y="437.4" font-family='"Liberation Sans", sans-serif' font-size="9.8" font-weight="bold" text-anchor="end" >25</text>
<line x1="248.6" y1="566.7" x2="248.6" y2="571.9" stroke="#000" stroke-width="1.5" />
<text x="248.6" y="583.1" font-family='"Liberation Sans", sans-serif' font-size="9.7" font-weight="bold" text-anchor="middle" >0h</text>
<line x1="288.5" y1="566.7" x2="288.5" y2="571.9" stroke="#000" stroke-width="1.5" />
<text x="288.5" y="583.1" font-family='"Liberation Sans", sans-serif' font-size="9.7" font-weight="bold" text-anchor="middle" >2h</text>
<line x1="328.4" y1="566.7" x2="328.4" y2="571.9" stroke="#000" stroke-width="1.5" />
<text x="328.4" y="583.1" font-family='"Liberation Sans", sans-serif' font-size="9.7" font-weight="bold" text-anchor="middle" >4h</text>
<line x1="386.65" y1="433.15" x2="386.65" y2="567.55" stroke="#000" stroke-width="1.7" />
<line x1="380.75" y1="566.7" x2="520.1" y2="566.7" stroke="#000" stroke-width="1.7" />
<line x1="380.75" y1="566.7" x2="386.65" y2="566.7" stroke="#000" stroke-width="1.5" />
<text x="379.65" y="570.2" font-family='"Liberation Sans", sans-serif' font-size="9.8" font-weight="bold" text-anchor="end" >0</text>
<line x1="380.75" y1="540.14" x2="386.65" y2="540.14" stroke="#000" stroke-width="1.5" />
<text x="379.65" y="543.64" font-family='"Liberation Sans", sans-serif' font-size="9.8" font-weight="bold" text-anchor="end" >5</text>
<line x1="380.75" y1="513.58" x2="386.65" y2="513.58" stroke="#000" stroke-width="1.5" />
<text x="379.65" y="517.08" font-family='"Liberation Sans", sans-serif' font-size="9.8" font-weight="bold" text-anchor="end" >10</text>
<line x1="380.75" y1="487.02" x2="386.65" y2="487.02" stroke="#000" stroke-width="1.5" />
<text x="379.65" y="490.52" font-family='"Liberation Sans", sans-serif' font-size="9.8" font-weight="bold" text-anchor="end" >15</text>
<line x1="380.75" y1="460.46" x2="386.65" y2="460.46" stroke="#000" stroke-width="1.5" />
<text x="379.65" y="463.96" font-family='"Liberation Sans", sans-serif' font-size="9.8" font-weight="bold" text-anchor="end" >20</text>
<line x1="380.75" y1="433.9" x2="386.65" y2="433.9" stroke="#000" stroke-width="1.5" />
<text x="379.65" y="437.4" font-family='"Liberation Sans", sans-serif' font-size="9.8" font-weight="bold" text-anchor="end" >25</text>
<line x1="413.1" y1="566.7" x2="413.1" y2="571.9" stroke="#000" stroke-width="1.5" />
<text x="413.1" y="583.1" font-family='"Liberation Sans", sans-serif' font-size="9.7" font-weight="bold" text-anchor="middle" >0h</text>
<line x1="452.95" y1="566.7" x2="452.95" y2="571.9" stroke="#000" stroke-width="1.5" />
<text x="452.95" y="583.1" font-family='"Liberation Sans", sans-serif' font-size="9.7" font-weight="bold" text-anchor="middle" >2h</text>
<line x1="492.9" y1="566.7" x2="492.9" y2="571.9" stroke="#000" stroke-width="1.5" />
<text x="492.9" y="583.1" font-family='"Liberation Sans", sans-serif' font-size="9.7" font-weight="bold" text-anchor="middle" >4h</text>
<line x1="550.9" y1="433.45" x2="550.9" y2="567.75" stroke="#000" stroke-width="1.7" />
<line x1="545" y1="566.9" x2="683.9" y2="566.9" stroke="#000" stroke-width="1.7" />
<line x1="545" y1="566.9" x2="550.9" y2="566.9" stroke="#000" stroke-width="1.5" />
<text x="543.9" y="570.4" font-family='"Liberation Sans", sans-serif' font-size="9.8" font-weight="bold" text-anchor="end" >0</text>
<line x1="545" y1="540.36" x2="550.9" y2="540.36" stroke="#000" stroke-width="1.5" />
<text x="543.9" y="543.86" font-family='"Liberation Sans", sans-serif' font-size="9.8" font-weight="bold" text-anchor="end" >5</text>
<line x1="545" y1="513.82" x2="550.9" y2="513.82" stroke="#000" stroke-width="1.5" />
<text x="543.9" y="517.32" font-family='"Liberation Sans", sans-serif' font-size="9.8" font-weight="bold" text-anchor="end" >10</text>
<line x1="545" y1="487.28" x2="550.9" y2="487.28" stroke="#000" stroke-width="1.5" />
<text x="543.9" y="490.78" font-family='"Liberation Sans", sans-serif' font-size="9.8" font-weight="bold" text-anchor="end" >15</text>
<line x1="545" y1="460.74" x2="550.9" y2="460.74" stroke="#000" stroke-width="1.5" />
<text x="543.9" y="464.24" font-family='"Liberation Sans", sans-serif' font-size="9.8" font-weight="bold" text-anchor="end" >20</text>
<line x1="545" y1="434.2" x2="550.9" y2="434.2" stroke="#000" stroke-width="1.5" />
<text x="543.9" y="437.7" font-family='"Liberation Sans", sans-serif' font-size="9.8" font-weight="bold" text-anchor="end" >25</text>
<line x1="577.6" y1="566.9" x2="577.6" y2="572.1" stroke="#000" stroke-width="1.5" />
<text x="577.6" y="583.3" font-family='"Liberation Sans", sans-serif' font-size="9.7" font-weight="bold" text-anchor="middle" >0h</text>
<line x1="617.55" y1="566.9" x2="617.55" y2="572.1" stroke="#000" stroke-width="1.5" />
<text x="617.55" y="583.3" font-family='"Liberation Sans", sans-serif' font-size="9.7" font-weight="bold" text-anchor="middle" >2h</text>
<line x1="657.3" y1="566.9" x2="657.3" y2="572.1" stroke="#000" stroke-width="1.5" />
<text x="657.3" y="583.3" font-family='"Liberation Sans", sans-serif' font-size="9.7" font-weight="bold" text-anchor="middle" >4h</text>
<line x1="58.15" y1="597.75" x2="58.15" y2="729.25" stroke="#000" stroke-width="1.7" />
<line x1="52.25" y1="728.4" x2="189.8" y2="728.4" stroke="#000" stroke-width="1.7" />
<line x1="52.25" y1="728.4" x2="58.15" y2="728.4" stroke="#000" stroke-width="1.5" />
<text x="51.15" y="731.9" font-family='"Liberation Sans", sans-serif' font-size="9.8" font-weight="bold" text-anchor="end" >0.0</text>
<line x1="52.25" y1="702.42" x2="58.15" y2="702.42" stroke="#000" stroke-width="1.5" />
<text x="51.15" y="705.92" font-family='"Liberation Sans", sans-serif' font-size="9.8" font-weight="bold" text-anchor="end" >0.5</text>
<line x1="52.25" y1="676.44" x2="58.15" y2="676.44" stroke="#000" stroke-width="1.5" />
<text x="51.15" y="679.94" font-family='"Liberation Sans", sans-serif' font-size="9.8" font-weight="bold" text-anchor="end" >1.0</text>
<line x1="52.25" y1="650.46" x2="58.15" y2="650.46" stroke="#000" stroke-width="1.5" />
<text x="51.15" y="653.96" font-family='"Liberation Sans", sans-serif' font-size="9.8" font-weight="bold" text-anchor="end" >1.5</text>
<line x1="52.25" y1="624.48" x2="58.15" y2="624.48" stroke="#000" stroke-width="1.5" />
<text x="51.15" y="627.98" font-family='"Liberation Sans", sans-serif' font-size="9.8" font-weight="bold" text-anchor="end" >2.0</text>
<line x1="52.25" y1="598.5" x2="58.15" y2="598.5" stroke="#000" stroke-width="1.5" />
<text x="51.15" y="602" font-family='"Liberation Sans", sans-serif' font-size="9.8" font-weight="bold" text-anchor="end" >2.5</text>
<line x1="84.1" y1="728.4" x2="84.1" y2="733.6" stroke="#000" stroke-width="1.5" />
<text x="82.8" y="744.8" font-family='"Liberation Sans", sans-serif' font-size="9.7" font-weight="bold" text-anchor="middle" >0h</text>
<line x1="123.4" y1="728.4" x2="123.4" y2="733.6" stroke="#000" stroke-width="1.5" />
<text x="122.1" y="744.8" font-family='"Liberation Sans", sans-serif' font-size="9.7" font-weight="bold" text-anchor="middle" >2h</text>
<line x1="162.6" y1="728.4" x2="162.6" y2="733.6" stroke="#000" stroke-width="1.5" />
<text x="161.3" y="744.8" font-family='"Liberation Sans", sans-serif' font-size="9.7" font-weight="bold" text-anchor="middle" >4h</text>
<line x1="223.3" y1="597.95" x2="223.3" y2="729.45" stroke="#000" stroke-width="1.7" />
<line x1="217.4" y1="728.6" x2="355.8" y2="728.6" stroke="#000" stroke-width="1.7" />
<line x1="217.4" y1="728.6" x2="223.3" y2="728.6" stroke="#000" stroke-width="1.5" />
<text x="216.3" y="732.1" font-family='"Liberation Sans", sans-serif' font-size="9.8" font-weight="bold" text-anchor="end" >0.0</text>
<line x1="217.4" y1="702.62" x2="223.3" y2="702.62" stroke="#000" stroke-width="1.5" />
<text x="216.3" y="706.12" font-family='"Liberation Sans", sans-serif' font-size="9.8" font-weight="bold" text-anchor="end" >0.5</text>
<line x1="217.4" y1="676.64" x2="223.3" y2="676.64" stroke="#000" stroke-width="1.5" />
<text x="216.3" y="680.14" font-family='"Liberation Sans", sans-serif' font-size="9.8" font-weight="bold" text-anchor="end" >1.0</text>
<line x1="217.4" y1="650.66" x2="223.3" y2="650.66" stroke="#000" stroke-width="1.5" />
<text x="216.3" y="654.16" font-family='"Liberation Sans", sans-serif' font-size="9.8" font-weight="bold" text-anchor="end" >1.5</text>
<line x1="217.4" y1="624.68" x2="223.3" y2="624.68" stroke="#000" stroke-width="1.5" />
<text x="216.3" y="628.18" font-family='"Liberation Sans", sans-serif' font-size="9.8" font-weight="bold" text-anchor="end" >2.0</text>
<line x1="217.4" y1="598.7" x2="223.3" y2="598.7" stroke="#000" stroke-width="1.5" />
<text x="216.3" y="602.2" font-family='"Liberation Sans", sans-serif' font-size="9.8" font-weight="bold" text-anchor="end" >2.5</text>
<line x1="249.8" y1="728.6" x2="249.8" y2="733.8" stroke="#000" stroke-width="1.5" />
<text x="248.5" y="745" font-family='"Liberation Sans", sans-serif' font-size="9.7" font-weight="bold" text-anchor="middle" >0h</text>
<line x1="289.2" y1="728.6" x2="289.2" y2="733.8" stroke="#000" stroke-width="1.5" />
<text x="287.9" y="745" font-family='"Liberation Sans", sans-serif' font-size="9.7" font-weight="bold" text-anchor="middle" >2h</text>
<line x1="328.6" y1="728.6" x2="328.6" y2="733.8" stroke="#000" stroke-width="1.5" />
<text x="327.3" y="745" font-family='"Liberation Sans", sans-serif' font-size="9.7" font-weight="bold" text-anchor="middle" >4h</text>
<line x1="386.65" y1="595.65" x2="386.65" y2="730.05" stroke="#000" stroke-width="1.7" />
<line x1="380.75" y1="729.2" x2="520.1" y2="729.2" stroke="#000" stroke-width="1.7" />
<line x1="380.75" y1="729.2" x2="386.65" y2="729.2" stroke="#000" stroke-width="1.5" />
<text x="379.65" y="732.7" font-family='"Liberation Sans", sans-serif' font-size="9.8" font-weight="bold" text-anchor="end" >0.0</text>
<line x1="380.75" y1="702.64" x2="386.65" y2="702.64" stroke="#000" stroke-width="1.5" />
<text x="379.65" y="706.14" font-family='"Liberation Sans", sans-serif' font-size="9.8" font-weight="bold" text-anchor="end" >0.5</text>
<line x1="380.75" y1="676.08" x2="386.65" y2="676.08" stroke="#000" stroke-width="1.5" />
<text x="379.65" y="679.58" font-family='"Liberation Sans", sans-serif' font-size="9.8" font-weight="bold" text-anchor="end" >1.0</text>
<line x1="380.75" y1="649.52" x2="386.65" y2="649.52" stroke="#000" stroke-width="1.5" />
<text x="379.65" y="653.02" font-family='"Liberation Sans", sans-serif' font-size="9.8" font-weight="bold" text-anchor="end" >1.5</text>
<line x1="380.75" y1="622.96" x2="386.65" y2="622.96" stroke="#000" stroke-width="1.5" />
<text x="379.65" y="626.46" font-family='"Liberation Sans", sans-serif' font-size="9.8" font-weight="bold" text-anchor="end" >2.0</text>
<line x1="380.75" y1="596.4" x2="386.65" y2="596.4" stroke="#000" stroke-width="1.5" />
<text x="379.65" y="599.9" font-family='"Liberation Sans", sans-serif' font-size="9.8" font-weight="bold" text-anchor="end" >2.5</text>
<line x1="413.1" y1="729.2" x2="413.1" y2="734.4" stroke="#000" stroke-width="1.5" />
<text x="411.8" y="745.6" font-family='"Liberation Sans", sans-serif' font-size="9.7" font-weight="bold" text-anchor="middle" >0h</text>
<line x1="452.95" y1="729.2" x2="452.95" y2="734.4" stroke="#000" stroke-width="1.5" />
<text x="451.65" y="745.6" font-family='"Liberation Sans", sans-serif' font-size="9.7" font-weight="bold" text-anchor="middle" >2h</text>
<line x1="492.9" y1="729.2" x2="492.9" y2="734.4" stroke="#000" stroke-width="1.5" />
<text x="491.6" y="745.6" font-family='"Liberation Sans", sans-serif' font-size="9.7" font-weight="bold" text-anchor="middle" >4h</text>
<line x1="550.9" y1="595.55" x2="550.9" y2="729.85" stroke="#000" stroke-width="1.7" />
<line x1="545" y1="729" x2="683.9" y2="729" stroke="#000" stroke-width="1.7" />
<line x1="545" y1="729" x2="550.9" y2="729" stroke="#000" stroke-width="1.5" />
<text x="543.9" y="732.5" font-family='"Liberation Sans", sans-serif' font-size="9.8" font-weight="bold" text-anchor="end" >0.0</text>
<line x1="545" y1="702.46" x2="550.9" y2="702.46" stroke="#000" stroke-width="1.5" />
<text x="543.9" y="705.96" font-family='"Liberation Sans", sans-serif' font-size="9.8" font-weight="bold" text-anchor="end" >0.5</text>
<line x1="545" y1="675.92" x2="550.9" y2="675.92" stroke="#000" stroke-width="1.5" />
<text x="543.9" y="679.42" font-family='"Liberation Sans", sans-serif' font-size="9.8" font-weight="bold" text-anchor="end" >1.0</text>
<line x1="545" y1="649.38" x2="550.9" y2="649.38" stroke="#000" stroke-width="1.5" />
<text x="543.9" y="652.88" font-family='"Liberation Sans", sans-serif' font-size="9.8" font-weight="bold" text-anchor="end" >1.5</text>
<line x1="545" y1="622.84" x2="550.9" y2="622.84" stroke="#000" stroke-width="1.5" />
<text x="543.9" y="626.34" font-family='"Liberation Sans", sans-serif' font-size="9.8" font-weight="bold" text-anchor="end" >2.0</text>
<line x1="545" y1="596.3" x2="550.9" y2="596.3" stroke="#000" stroke-width="1.5" />
<text x="543.9" y="599.8" font-family='"Liberation Sans", sans-serif' font-size="9.8" font-weight="bold" text-anchor="end" >2.5</text>
<line x1="577.6" y1="729" x2="577.6" y2="734.2" stroke="#000" stroke-width="1.5" />
<text x="576.3" y="745.4" font-family='"Liberation Sans", sans-serif' font-size="9.7" font-weight="bold" text-anchor="middle" >0h</text>
<line x1="617.55" y1="729" x2="617.55" y2="734.2" stroke="#000" stroke-width="1.5" />
<text x="616.25" y="745.4" font-family='"Liberation Sans", sans-serif' font-size="9.7" font-weight="bold" text-anchor="middle" >2h</text>
<line x1="657.3" y1="729" x2="657.3" y2="734.2" stroke="#000" stroke-width="1.5" />
<text x="656" y="745.4" font-family='"Liberation Sans", sans-serif' font-size="9.7" font-weight="bold" text-anchor="middle" >4h</text>
<line x1="84.45" y1="173.2" x2="84.45" y2="204.5" stroke="#2a2a2a" stroke-width="1" />
<line x1="80.45" y1="173.2" x2="88.45" y2="173.2" stroke="#2a2a2a" stroke-width="1" />
<line x1="80.45" y1="192.4" x2="88.45" y2="192.4" stroke="#2a2a2a" stroke-width="1" />
<line x1="80.45" y1="194.4" x2="88.45" y2="194.4" stroke="#2a2a2a" stroke-width="1" />
<line x1="80.45" y1="196.4" x2="88.45" y2="196.4" stroke="#2a2a2a" stroke-width="1" />
<line x1="80.45" y1="204.5" x2="88.45" y2="204.5" stroke="#2a2a2a" stroke-width="1" />
<line x1="124.35" y1="148" x2="124.35" y2="178.3" stroke="#2a2a2a" stroke-width="1" />
<line x1="120.35" y1="148" x2="128.35" y2="148" stroke="#2a2a2a" stroke-width="1" />
<line x1="120.35" y1="161.6" x2="128.35" y2="161.6" stroke="#2a2a2a" stroke-width="1" />
<line x1="120.35" y1="171.5" x2="128.35" y2="171.5" stroke="#2a2a2a" stroke-width="1" />
<line x1="120.35" y1="178.3" x2="128.35" y2="178.3" stroke="#2a2a2a" stroke-width="1" />
<line x1="164.05" y1="156.6" x2="164.05" y2="192.6" stroke="#2a2a2a" stroke-width="1" />
<line x1="160.05" y1="156.6" x2="168.05" y2="156.6" stroke="#2a2a2a" stroke-width="1" />
<line x1="160.05" y1="158.1" x2="168.05" y2="158.1" stroke="#2a2a2a" stroke-width="1" />
<line x1="160.05" y1="164.5" x2="168.05" y2="164.5" stroke="#2a2a2a" stroke-width="1" />
<line x1="160.05" y1="178.3" x2="168.05" y2="178.3" stroke="#2a2a2a" stroke-width="1" />
<line x1="160.05" y1="181.5" x2="168.05" y2="181.5" stroke="#2a2a2a" stroke-width="1" />
<line x1="160.05" y1="192.6" x2="168.05" y2="192.6" stroke="#2a2a2a" stroke-width="1" />
<line x1="164.05" y1="225.5" x2="164.05" y2="240.5" stroke="#2a2a2a" stroke-width="1" />
<line x1="160.05" y1="225.5" x2="168.05" y2="225.5" stroke="#2a2a2a" stroke-width="1" />
<line x1="160.05" y1="240.5" x2="168.05" y2="240.5" stroke="#2a2a2a" stroke-width="1" />
<polyline points="84.45,188 124.35,243.8 164.05,237.4" fill="none" stroke="#A64BD6" stroke-width="2.6" stroke-linejoin="round" stroke-dasharray="3.9 6.4" stroke-linecap="round"/>
<circle cx="84.45" cy="188" r="3.9" fill="#A64BD6" stroke="#1a1a1a" stroke-width="0.9"/>
<circle cx="124.35" cy="243.8" r="3.9" fill="#A64BD6" stroke="#1a1a1a" stroke-width="0.9"/>
<circle cx="164.05" cy="237.4" r="3.9" fill="#A64BD6" stroke="#1a1a1a" stroke-width="0.9"/>
<polyline points="84.45,200.4 124.35,240.3 164.05,233.9" fill="none" stroke="#8888FF" stroke-width="2.6" stroke-linejoin="round" stroke-dasharray="3.9 6.4" stroke-linecap="round"/>
<circle cx="84.45" cy="200.4" r="3.9" fill="#8888FF" stroke="#1a1a1a" stroke-width="0.9"/>
<circle cx="124.35" cy="240.3" r="3.9" fill="#8888FF" stroke="#1a1a1a" stroke-width="0.9"/>
<circle cx="164.05" cy="233.9" r="3.9" fill="#8888FF" stroke="#1a1a1a" stroke-width="0.9"/>
<polyline points="84.45,179.4 124.35,158.6 164.05,163.9" fill="none" stroke="#FF0000" stroke-width="2.3" stroke-linejoin="round"/>
<polygon points="80.25,175.8 88.65,175.8 84.45,183" fill="#FF0000" stroke="#1a1a1a" stroke-width="0.9" stroke-linejoin="miter"/>
<polygon points="120.15,155 128.55,155 124.35,162.2" fill="#FF0000" stroke="#1a1a1a" stroke-width="0.9" stroke-linejoin="miter"/>
<polygon points="159.85,160.3 168.25,160.3 164.05,167.5" fill="#FF0000" stroke="#1a1a1a" stroke-width="0.9" stroke-linejoin="miter"/>
<polyline points="84.45,179.5 124.35,236.6 164.05,228.6" fill="none" stroke="#FF0000" stroke-width="2.6" stroke-linejoin="round" stroke-dasharray="3.9 6.4" stroke-linecap="round"/>
<circle cx="84.45" cy="179.5" r="3.9" fill="#FF0000" stroke="#1a1a1a" stroke-width="0.9"/>
<circle cx="124.35" cy="236.6" r="3.9" fill="#FF0000" stroke="#1a1a1a" stroke-width="0.9"/>
<circle cx="164.05" cy="228.6" r="3.9" fill="#FF0000" stroke="#1a1a1a" stroke-width="0.9"/>
<polyline points="84.45,187 124.35,164 164.05,185.7" fill="none" stroke="#A64BD6" stroke-width="2.3" stroke-linejoin="round"/>
<polygon points="80.25,183.4 88.65,183.4 84.45,190.6" fill="#A64BD6" stroke="#1a1a1a" stroke-width="0.9" stroke-linejoin="miter"/>
<polygon points="120.15,160.4 128.55,160.4 124.35,167.6" fill="#A64BD6" stroke="#1a1a1a" stroke-width="0.9" stroke-linejoin="miter"/>
<polygon points="159.85,182.1 168.25,182.1 164.05,189.3" fill="#A64BD6" stroke="#1a1a1a" stroke-width="0.9" stroke-linejoin="miter"/>
<polyline points="84.45,182 124.35,168.2 164.05,175" fill="none" stroke="#8888FF" stroke-width="2.3" stroke-linejoin="round"/>
<polygon points="80.25,178.4 88.65,178.4 84.45,185.6" fill="#8888FF" stroke="#1a1a1a" stroke-width="0.9" stroke-linejoin="miter"/>
<polygon points="120.15,164.6 128.55,164.6 124.35,171.8" fill="#8888FF" stroke="#1a1a1a" stroke-width="0.9" stroke-linejoin="miter"/>
<polygon points="159.85,171.4 168.25,171.4 164.05,178.6" fill="#8888FF" stroke="#1a1a1a" stroke-width="0.9" stroke-linejoin="miter"/>
<polyline points="248.6,178.6 288.5,147.6 328.4,161.4" fill="none" stroke="#FF0000" stroke-width="2.3" stroke-linejoin="round"/>
<line x1="288.5" y1="122" x2="288.5" y2="173.2" stroke="#2a2a2a" stroke-width="1" />
<line x1="283.1" y1="122" x2="293.9" y2="122" stroke="#2a2a2a" stroke-width="1" />
<line x1="283.1" y1="173.2" x2="293.9" y2="173.2" stroke="#2a2a2a" stroke-width="1" />
<line x1="328.4" y1="148.9" x2="328.4" y2="173.9" stroke="#2a2a2a" stroke-width="1" />
<line x1="323" y1="148.9" x2="333.8" y2="148.9" stroke="#2a2a2a" stroke-width="1" />
<line x1="323" y1="173.9" x2="333.8" y2="173.9" stroke="#2a2a2a" stroke-width="1" />
<line x1="248.6" y1="164.6" x2="248.6" y2="192.6" stroke="#2a2a2a" stroke-width="1" />
<line x1="243.2" y1="164.6" x2="254" y2="164.6" stroke="#2a2a2a" stroke-width="1" />
<line x1="243.2" y1="192.6" x2="254" y2="192.6" stroke="#2a2a2a" stroke-width="1" />
<circle cx="248.6" cy="178.6" r="5.2" fill="#FF0000" stroke="#1a1a1a" stroke-width="0.9"/>
<circle cx="288.5" cy="147.6" r="5.2" fill="#FF0000" stroke="#1a1a1a" stroke-width="0.9"/>
<circle cx="328.4" cy="161.4" r="5.2" fill="#FF0000" stroke="#1a1a1a" stroke-width="0.9"/>
<polyline points="248.6,187 288.5,165.1 328.4,164.9" fill="none" stroke="#FFA0A0" stroke-width="2.3" stroke-linejoin="round"/>
<line x1="288.5" y1="154.4" x2="288.5" y2="175.8" stroke="#2a2a2a" stroke-width="1" />
<line x1="283.1" y1="154.4" x2="293.9" y2="154.4" stroke="#2a2a2a" stroke-width="1" />
<line x1="283.1" y1="175.8" x2="293.9" y2="175.8" stroke="#2a2a2a" stroke-width="1" />
<line x1="328.4" y1="156.5" x2="328.4" y2="173.3" stroke="#2a2a2a" stroke-width="1" />
<line x1="323" y1="156.5" x2="333.8" y2="156.5" stroke="#2a2a2a" stroke-width="1" />
<line x1="323" y1="173.3" x2="333.8" y2="173.3" stroke="#2a2a2a" stroke-width="1" />
<line x1="248.6" y1="180.2" x2="248.6" y2="193.8" stroke="#2a2a2a" stroke-width="1" />
<line x1="243.2" y1="180.2" x2="254" y2="180.2" stroke="#2a2a2a" stroke-width="1" />
<line x1="243.2" y1="193.8" x2="254" y2="193.8" stroke="#2a2a2a" stroke-width="1" />
<circle cx="248.6" cy="187" r="5.2" fill="#FFA0A0" stroke="#1a1a1a" stroke-width="0.9"/>
<circle cx="288.5" cy="165.1" r="5.2" fill="#FFA0A0" stroke="#1a1a1a" stroke-width="0.9"/>
<circle cx="328.4" cy="164.9" r="5.2" fill="#FFA0A0" stroke="#1a1a1a" stroke-width="0.9"/>
<polyline points="248.6,188.9 288.5,235.5 328.4,224.3" fill="none" stroke="#FF0000" stroke-width="2.6" stroke-linejoin="round" stroke-dasharray="3.9 6.4" stroke-linecap="round"/>
<line x1="248.6" y1="180.7" x2="248.6" y2="197.1" stroke="#2a2a2a" stroke-width="1" />
<line x1="243.2" y1="180.7" x2="254" y2="180.7" stroke="#2a2a2a" stroke-width="1" />
<line x1="243.2" y1="197.1" x2="254" y2="197.1" stroke="#2a2a2a" stroke-width="1" />
<line x1="328.4" y1="218.7" x2="328.4" y2="229.9" stroke="#2a2a2a" stroke-width="1" />
<line x1="323" y1="218.7" x2="333.8" y2="218.7" stroke="#2a2a2a" stroke-width="1" />
<line x1="323" y1="229.9" x2="333.8" y2="229.9" stroke="#2a2a2a" stroke-width="1" />
<circle cx="248.6" cy="188.9" r="5.2" fill="#FF0000" stroke="#1a1a1a" stroke-width="0.9"/>
<circle cx="288.5" cy="235.5" r="5.2" fill="#FF0000" stroke="#1a1a1a" stroke-width="0.9"/>
<circle cx="328.4" cy="224.3" r="5.2" fill="#FF0000" stroke="#1a1a1a" stroke-width="0.9"/>
<polyline points="248.6,168.9 288.5,238.1 328.4,236.1" fill="none" stroke="#FFA0A0" stroke-width="2.6" stroke-linejoin="round" stroke-dasharray="3.9 6.4" stroke-linecap="round"/>
<line x1="248.6" y1="159.6" x2="248.6" y2="178.2" stroke="#2a2a2a" stroke-width="1" />
<line x1="243.2" y1="159.6" x2="254" y2="159.6" stroke="#2a2a2a" stroke-width="1" />
<line x1="243.2" y1="178.2" x2="254" y2="178.2" stroke="#2a2a2a" stroke-width="1" />
<circle cx="248.6" cy="168.9" r="5.2" fill="#FFA0A0" stroke="#1a1a1a" stroke-width="0.9"/>
<circle cx="288.5" cy="238.1" r="5.2" fill="#FFA0A0" stroke="#1a1a1a" stroke-width="0.9"/>
<circle cx="328.4" cy="236.1" r="5.2" fill="#FFA0A0" stroke="#1a1a1a" stroke-width="0.9"/>
<polyline points="413.1,167.2 452.95,163.9 492.9,167" fill="none" stroke="#0000EE" stroke-width="2.3" stroke-linejoin="round"/>
<line x1="413.1" y1="157.5" x2="413.1" y2="176.9" stroke="#2a2a2a" stroke-width="1" />
<line x1="407.7" y1="157.5" x2="418.5" y2="157.5" stroke="#2a2a2a" stroke-width="1" />
<line x1="407.7" y1="176.9" x2="418.5" y2="176.9" stroke="#2a2a2a" stroke-width="1" />
<line x1="452.95" y1="149.3" x2="452.95" y2="178.5" stroke="#2a2a2a" stroke-width="1" />
<line x1="447.55" y1="149.3" x2="458.35" y2="149.3" stroke="#2a2a2a" stroke-width="1" />
<line x1="447.55" y1="178.5" x2="458.35" y2="178.5" stroke="#2a2a2a" stroke-width="1" />
<circle cx="413.1" cy="167.2" r="5.2" fill="#0000EE" stroke="#1a1a1a" stroke-width="0.9"/>
<circle cx="452.95" cy="163.9" r="5.2" fill="#0000EE" stroke="#1a1a1a" stroke-width="0.9"/>
<circle cx="492.9" cy="167" r="5.2" fill="#0000EE" stroke="#1a1a1a" stroke-width="0.9"/>
<polyline points="413.1,182.4 452.95,161.4 492.9,167.8" fill="none" stroke="#9CC6F4" stroke-width="2.3" stroke-linejoin="round"/>
<line x1="413.1" y1="178.8" x2="413.1" y2="186" stroke="#2a2a2a" stroke-width="1" />
<line x1="407.7" y1="178.8" x2="418.5" y2="178.8" stroke="#2a2a2a" stroke-width="1" />
<line x1="407.7" y1="186" x2="418.5" y2="186" stroke="#2a2a2a" stroke-width="1" />
<line x1="452.95" y1="148.3" x2="452.95" y2="174.5" stroke="#2a2a2a" stroke-width="1" />
<line x1="447.55" y1="148.3" x2="458.35" y2="148.3" stroke="#2a2a2a" stroke-width="1" />
<line x1="447.55" y1="174.5" x2="458.35" y2="174.5" stroke="#2a2a2a" stroke-width="1" />
<line x1="492.9" y1="152.4" x2="492.9" y2="183.2" stroke="#2a2a2a" stroke-width="1" />
<line x1="487.5" y1="152.4" x2="498.3" y2="152.4" stroke="#2a2a2a" stroke-width="1" />
<line x1="487.5" y1="183.2" x2="498.3" y2="183.2" stroke="#2a2a2a" stroke-width="1" />
<circle cx="413.1" cy="182.4" r="5.2" fill="#9CC6F4" stroke="#1a1a1a" stroke-width="0.9"/>
<circle cx="452.95" cy="161.4" r="5.2" fill="#9CC6F4" stroke="#1a1a1a" stroke-width="0.9"/>
<circle cx="492.9" cy="167.8" r="5.2" fill="#9CC6F4" stroke="#1a1a1a" stroke-width="0.9"/>
<polyline points="413.1,191.6 452.95,237.4 492.9,235.5" fill="none" stroke="#0000EE" stroke-width="2.6" stroke-linejoin="round" stroke-dasharray="3.9 6.4" stroke-linecap="round"/>
<circle cx="413.1" cy="191.6" r="5.2" fill="#0000EE" stroke="#1a1a1a" stroke-width="0.9"/>
<circle cx="452.95" cy="237.4" r="5.2" fill="#0000EE" stroke="#1a1a1a" stroke-width="0.9"/>
<circle cx="492.9" cy="235.5" r="5.2" fill="#0000EE" stroke="#1a1a1a" stroke-width="0.9"/>
<polyline points="413.1,194.9 452.95,231.2 492.9,214" fill="none" stroke="#9CC6F4" stroke-width="2.6" stroke-linejoin="round" stroke-dasharray="3.9 6.4" stroke-linecap="round"/>
<line x1="413.1" y1="190.8" x2="413.1" y2="199" stroke="#2a2a2a" stroke-width="1" />
<line x1="407.7" y1="190.8" x2="418.5" y2="190.8" stroke="#2a2a2a" stroke-width="1" />
<line x1="407.7" y1="199" x2="418.5" y2="199" stroke="#2a2a2a" stroke-width="1" />
<line x1="492.9" y1="200.3" x2="492.9" y2="227.7" stroke="#2a2a2a" stroke-width="1" />
<line x1="487.5" y1="200.3" x2="498.3" y2="200.3" stroke="#2a2a2a" stroke-width="1" />
<line x1="487.5" y1="227.7" x2="498.3" y2="227.7" stroke="#2a2a2a" stroke-width="1" />
<circle cx="413.1" cy="194.9" r="5.2" fill="#9CC6F4" stroke="#1a1a1a" stroke-width="0.9"/>
<circle cx="452.95" cy="231.2" r="5.2" fill="#9CC6F4" stroke="#1a1a1a" stroke-width="0.9"/>
<circle cx="492.9" cy="214" r="5.2" fill="#9CC6F4" stroke="#1a1a1a" stroke-width="0.9"/>
<line x1="612.15" y1="146.7" x2="622.95" y2="146.7" stroke="#2a2a2a" stroke-width="1" />
<polyline points="577.6,174.1 617.55,159 657.3,169.1" fill="none" stroke="#9900CC" stroke-width="2.3" stroke-linejoin="round"/>
<line x1="577.6" y1="157.8" x2="577.6" y2="190.4" stroke="#2a2a2a" stroke-width="1" />
<line x1="572.2" y1="157.8" x2="583" y2="157.8" stroke="#2a2a2a" stroke-width="1" />
<line x1="572.2" y1="190.4" x2="583" y2="190.4" stroke="#2a2a2a" stroke-width="1" />
<line x1="617.55" y1="148" x2="617.55" y2="170" stroke="#2a2a2a" stroke-width="1" />
<line x1="612.15" y1="148" x2="622.95" y2="148" stroke="#2a2a2a" stroke-width="1" />
<line x1="612.15" y1="170" x2="622.95" y2="170" stroke="#2a2a2a" stroke-width="1" />
<line x1="657.3" y1="157.4" x2="657.3" y2="180.8" stroke="#2a2a2a" stroke-width="1" />
<line x1="651.9" y1="157.4" x2="662.7" y2="157.4" stroke="#2a2a2a" stroke-width="1" />
<line x1="651.9" y1="180.8" x2="662.7" y2="180.8" stroke="#2a2a2a" stroke-width="1" />
<circle cx="577.6" cy="174.1" r="5.2" fill="#9900CC" stroke="#1a1a1a" stroke-width="0.9"/>
<circle cx="617.55" cy="159" r="5.2" fill="#9900CC" stroke="#1a1a1a" stroke-width="0.9"/>
<circle cx="657.3" cy="169.1" r="5.2" fill="#9900CC" stroke="#1a1a1a" stroke-width="0.9"/>
<polyline points="577.6,194.9 617.55,158.4 657.3,187.6" fill="none" stroke="#E08CF5" stroke-width="2.3" stroke-linejoin="round"/>
<line x1="577.6" y1="187.5" x2="577.6" y2="202.3" stroke="#2a2a2a" stroke-width="1" />
<line x1="572.2" y1="187.5" x2="583" y2="187.5" stroke="#2a2a2a" stroke-width="1" />
<line x1="572.2" y1="202.3" x2="583" y2="202.3" stroke="#2a2a2a" stroke-width="1" />
<line x1="617.55" y1="151.6" x2="617.55" y2="165.2" stroke="#2a2a2a" stroke-width="1" />
<line x1="612.15" y1="151.6" x2="622.95" y2="151.6" stroke="#2a2a2a" stroke-width="1" />
<line x1="612.15" y1="165.2" x2="622.95" y2="165.2" stroke="#2a2a2a" stroke-width="1" />
<line x1="657.3" y1="180.2" x2="657.3" y2="195" stroke="#2a2a2a" stroke-width="1" />
<line x1="651.9" y1="180.2" x2="662.7" y2="180.2" stroke="#2a2a2a" stroke-width="1" />
<line x1="651.9" y1="195" x2="662.7" y2="195" stroke="#2a2a2a" stroke-width="1" />
<circle cx="577.6" cy="194.9" r="5.2" fill="#E08CF5" stroke="#1a1a1a" stroke-width="0.9"/>
<circle cx="617.55" cy="158.4" r="5.2" fill="#E08CF5" stroke="#1a1a1a" stroke-width="0.9"/>
<circle cx="657.3" cy="187.6" r="5.2" fill="#E08CF5" stroke="#1a1a1a" stroke-width="0.9"/>
<polyline points="577.6,174.4 617.55,237.5 657.3,235.7" fill="none" stroke="#9900CC" stroke-width="2.6" stroke-linejoin="round" stroke-dasharray="3.9 6.4" stroke-linecap="round"/>
<line x1="577.6" y1="164.6" x2="577.6" y2="184.2" stroke="#2a2a2a" stroke-width="1" />
<line x1="572.2" y1="164.6" x2="583" y2="164.6" stroke="#2a2a2a" stroke-width="1" />
<line x1="572.2" y1="184.2" x2="583" y2="184.2" stroke="#2a2a2a" stroke-width="1" />
<circle cx="577.6" cy="174.4" r="5.2" fill="#9900CC" stroke="#1a1a1a" stroke-width="0.9"/>
<circle cx="617.55" cy="237.5" r="5.2" fill="#9900CC" stroke="#1a1a1a" stroke-width="0.9"/>
<circle cx="657.3" cy="235.7" r="5.2" fill="#9900CC" stroke="#1a1a1a" stroke-width="0.9"/>
<polyline points="577.6,184.8 617.55,236.9 657.3,225.2" fill="none" stroke="#E08CF5" stroke-width="2.6" stroke-linejoin="round" stroke-dasharray="3.9 6.4" stroke-linecap="round"/>
<line x1="657.3" y1="220" x2="657.3" y2="230.4" stroke="#2a2a2a" stroke-width="1" />
<line x1="651.9" y1="220" x2="662.7" y2="220" stroke="#2a2a2a" stroke-width="1" />
<line x1="651.9" y1="230.4" x2="662.7" y2="230.4" stroke="#2a2a2a" stroke-width="1" />
<circle cx="577.6" cy="184.8" r="5.2" fill="#E08CF5" stroke="#1a1a1a" stroke-width="0.9"/>
<circle cx="617.55" cy="236.9" r="5.2" fill="#E08CF5" stroke="#1a1a1a" stroke-width="0.9"/>
<circle cx="657.3" cy="225.2" r="5.2" fill="#E08CF5" stroke="#1a1a1a" stroke-width="0.9"/>
<line x1="124.35" y1="373.6" x2="124.35" y2="395" stroke="#2a2a2a" stroke-width="1" />
<line x1="120.35" y1="373.6" x2="128.35" y2="373.6" stroke="#2a2a2a" stroke-width="1" />
<line x1="120.35" y1="376" x2="128.35" y2="376" stroke="#2a2a2a" stroke-width="1" />
<line x1="120.35" y1="395" x2="128.35" y2="395" stroke="#2a2a2a" stroke-width="1" />
<line x1="84.45" y1="380" x2="84.45" y2="404" stroke="#2a2a2a" stroke-width="1" />
<line x1="80.45" y1="380" x2="88.45" y2="380" stroke="#2a2a2a" stroke-width="1" />
<line x1="80.45" y1="384" x2="88.45" y2="384" stroke="#2a2a2a" stroke-width="1" />
<line x1="80.45" y1="404" x2="88.45" y2="404" stroke="#2a2a2a" stroke-width="1" />
<line x1="160.05" y1="404" x2="168.05" y2="404" stroke="#2a2a2a" stroke-width="1" />
<polyline points="84.45,383 124.35,388 164.05,395.5" fill="none" stroke="#AE3CEE" stroke-width="2.3" stroke-linejoin="round"/>
<polygon points="80.25,379.4 88.65,379.4 84.45,386.6" fill="#A000EE" stroke="#1a1a1a" stroke-width="0.9" stroke-linejoin="miter"/>
<polygon points="120.15,384.4 128.55,384.4 124.35,391.6" fill="#A000EE" stroke="#1a1a1a" stroke-width="0.9" stroke-linejoin="miter"/>
<polygon points="159.85,391.9 168.25,391.9 164.05,399.1" fill="#A000EE" stroke="#1a1a1a" stroke-width="0.9" stroke-linejoin="miter"/>
<polyline points="84.45,396.5 124.35,387.5 164.05,398.8" fill="none" stroke="#8888FF" stroke-width="2.3" stroke-linejoin="round"/>
<polygon points="80.25,392.9 88.65,392.9 84.45,400.1" fill="#8888FF" stroke="#1a1a1a" stroke-width="0.9" stroke-linejoin="miter"/>
<polygon points="120.15,383.9 128.55,383.9 124.35,391.1" fill="#8888FF" stroke="#1a1a1a" stroke-width="0.9" stroke-linejoin="miter"/>
<polygon points="159.85,395.2 168.25,395.2 164.05,402.4" fill="#8888FF" stroke="#1a1a1a" stroke-width="0.9" stroke-linejoin="miter"/>
<polyline points="84.45,372.5 124.35,390.5 164.05,393.2" fill="none" stroke="#FF0000" stroke-width="2.3" stroke-linejoin="round"/>
<line x1="84.45" y1="345.9" x2="84.45" y2="399.1" stroke="#2a2a2a" stroke-width="1" />
<line x1="80.45" y1="345.9" x2="88.45" y2="345.9" stroke="#2a2a2a" stroke-width="1" />
<line x1="80.45" y1="399.1" x2="88.45" y2="399.1" stroke="#2a2a2a" stroke-width="1" />
<polygon points="80.25,368.9 88.65,368.9 84.45,376.1" fill="#FF0000" stroke="#1a1a1a" stroke-width="0.9" stroke-linejoin="miter"/>
<polygon points="120.15,386.9 128.55,386.9 124.35,394.1" fill="#FF0000" stroke="#1a1a1a" stroke-width="0.9" stroke-linejoin="miter"/>
<polygon points="159.85,389.6 168.25,389.6 164.05,396.8" fill="#FF0000" stroke="#1a1a1a" stroke-width="0.9" stroke-linejoin="miter"/>
<polyline points="84.45,390 124.35,384.4 164.05,362.4" fill="none" stroke="#8888FF" stroke-width="2.6" stroke-linejoin="round" stroke-dasharray="3.9 6.4" stroke-linecap="round"/>
<line x1="164.05" y1="348.4" x2="164.05" y2="376.4" stroke="#2a2a2a" stroke-width="1" />
<line x1="160.05" y1="348.4" x2="168.05" y2="348.4" stroke="#2a2a2a" stroke-width="1" />
<line x1="160.05" y1="376.4" x2="168.05" y2="376.4" stroke="#2a2a2a" stroke-width="1" />
<circle cx="84.45" cy="390" r="3.9" fill="#8888FF" stroke="#1a1a1a" stroke-width="0.9"/>
<circle cx="124.35" cy="384.4" r="3.9" fill="#8888FF" stroke="#1a1a1a" stroke-width="0.9"/>
<circle cx="164.05" cy="362.4" r="3.9" fill="#8888FF" stroke="#1a1a1a" stroke-width="0.9"/>
<polyline points="84.45,398.5 124.35,401.8 164.05,387.3" fill="none" stroke="#A000EE" stroke-width="2.6" stroke-linejoin="round" stroke-dasharray="3.9 6.4" stroke-linecap="round"/>
<line x1="164.05" y1="380.3" x2="164.05" y2="394.3" stroke="#2a2a2a" stroke-width="1" />
<line x1="160.05" y1="380.3" x2="168.05" y2="380.3" stroke="#2a2a2a" stroke-width="1" />
<line x1="160.05" y1="394.3" x2="168.05" y2="394.3" stroke="#2a2a2a" stroke-width="1" />
<circle cx="84.45" cy="398.5" r="3.9" fill="#A000EE" stroke="#1a1a1a" stroke-width="0.9"/>
<circle cx="124.35" cy="401.8" r="3.9" fill="#A000EE" stroke="#1a1a1a" stroke-width="0.9"/>
<circle cx="164.05" cy="387.3" r="3.9" fill="#A000EE" stroke="#1a1a1a" stroke-width="0.9"/>
<polyline points="84.45,389.2 124.35,393.2 164.05,324.5" fill="none" stroke="#FF0000" stroke-width="2.6" stroke-linejoin="round" stroke-dasharray="3.9 6.4" stroke-linecap="round"/>
<line x1="164.05" y1="302.1" x2="164.05" y2="346.9" stroke="#2a2a2a" stroke-width="1" />
<line x1="160.05" y1="302.1" x2="168.05" y2="302.1" stroke="#2a2a2a" stroke-width="1" />
<line x1="160.05" y1="346.9" x2="168.05" y2="346.9" stroke="#2a2a2a" stroke-width="1" />
<circle cx="84.45" cy="389.2" r="3.9" fill="#FF0000" stroke="#1a1a1a" stroke-width="0.9"/>
<circle cx="124.35" cy="393.2" r="3.9" fill="#FF0000" stroke="#1a1a1a" stroke-width="0.9"/>
<circle cx="164.05" cy="324.5" r="3.9" fill="#FF0000" stroke="#1a1a1a" stroke-width="0.9"/>
<line x1="243.2" y1="376.4" x2="254" y2="376.4" stroke="#2a2a2a" stroke-width="1" />
<polyline points="248.6,390.9 288.5,405 328.4,405" fill="none" stroke="#FF0000" stroke-width="2.3" stroke-linejoin="round"/>
<circle cx="248.6" cy="390.9" r="5.2" fill="#FF0000" stroke="#1a1a1a" stroke-width="0.9"/>
<circle cx="288.5" cy="405" r="5.2" fill="#FF0000" stroke="#1a1a1a" stroke-width="0.9"/>
<circle cx="328.4" cy="405" r="5.2" fill="#FF0000" stroke="#1a1a1a" stroke-width="0.9"/>
<polyline points="248.6,405.5 288.5,400.5 328.4,401.3" fill="none" stroke="#FFA0A0" stroke-width="2.3" stroke-linejoin="round"/>
<circle cx="248.6" cy="405.5" r="5.2" fill="#FFA0A0" stroke="#1a1a1a" stroke-width="0.9"/>
<circle cx="288.5" cy="400.5" r="5.2" fill="#FFA0A0" stroke="#1a1a1a" stroke-width="0.9"/>
<circle cx="328.4" cy="401.3" r="5.2" fill="#FFA0A0" stroke="#1a1a1a" stroke-width="0.9"/>
<polyline points="248.6,383.6 288.5,393 328.4,310.9" fill="none" stroke="#FF0000" stroke-width="2.6" stroke-linejoin="round" stroke-dasharray="3.9 6.4" stroke-linecap="round"/>
<line x1="248.6" y1="368.2" x2="248.6" y2="399" stroke="#2a2a2a" stroke-width="1" />
<line x1="243.2" y1="368.2" x2="254" y2="368.2" stroke="#2a2a2a" stroke-width="1" />
<line x1="243.2" y1="399" x2="254" y2="399" stroke="#2a2a2a" stroke-width="1" />
<line x1="328.4" y1="277.6" x2="328.4" y2="344.2" stroke="#2a2a2a" stroke-width="1" />
<line x1="323" y1="277.6" x2="333.8" y2="277.6" stroke="#2a2a2a" stroke-width="1" />
<line x1="323" y1="344.2" x2="333.8" y2="344.2" stroke="#2a2a2a" stroke-width="1" />
<circle cx="248.6" cy="383.6" r="5.2" fill="#FF0000" stroke="#1a1a1a" stroke-width="0.9"/>
<circle cx="288.5" cy="393" r="5.2" fill="#FF0000" stroke="#1a1a1a" stroke-width="0.9"/>
<circle cx="328.4" cy="310.9" r="5.2" fill="#FF0000" stroke="#1a1a1a" stroke-width="0.9"/>
<polyline points="248.6,397.3 288.5,393.3 328.4,339.5" fill="none" stroke="#FFA0A0" stroke-width="2.6" stroke-linejoin="round" stroke-dasharray="3.9 6.4" stroke-linecap="round"/>
<line x1="288.5" y1="380.4" x2="288.5" y2="406.2" stroke="#2a2a2a" stroke-width="1" />
<line x1="283.1" y1="380.4" x2="293.9" y2="380.4" stroke="#2a2a2a" stroke-width="1" />
<line x1="283.1" y1="406.2" x2="293.9" y2="406.2" stroke="#2a2a2a" stroke-width="1" />
<line x1="328.4" y1="309" x2="328.4" y2="370" stroke="#2a2a2a" stroke-width="1" />
<line x1="323" y1="309" x2="333.8" y2="309" stroke="#2a2a2a" stroke-width="1" />
<line x1="323" y1="370" x2="333.8" y2="370" stroke="#2a2a2a" stroke-width="1" />
<circle cx="248.6" cy="397.3" r="5.2" fill="#FFA0A0" stroke="#1a1a1a" stroke-width="0.9"/>
<circle cx="288.5" cy="393.3" r="5.2" fill="#FFA0A0" stroke="#1a1a1a" stroke-width="0.9"/>
<circle cx="328.4" cy="339.5" r="5.2" fill="#FFA0A0" stroke="#1a1a1a" stroke-width="0.9"/>
<line x1="407.7" y1="379.6" x2="418.5" y2="379.6" stroke="#2a2a2a" stroke-width="1" />
<line x1="492.9" y1="384" x2="492.9" y2="386.6" stroke="#2a2a2a" stroke-width="1" />
<line x1="487.5" y1="384" x2="498.3" y2="384" stroke="#2a2a2a" stroke-width="1" />
<line x1="487.5" y1="386.6" x2="498.3" y2="386.6" stroke="#2a2a2a" stroke-width="1" />
<polyline points="413.1,405 452.95,377.8 492.9,395.7" fill="none" stroke="#0000EE" stroke-width="2.3" stroke-linejoin="round"/>
<line x1="492.9" y1="386.6" x2="492.9" y2="404.8" stroke="#2a2a2a" stroke-width="1" />
<line x1="487.5" y1="386.6" x2="498.3" y2="386.6" stroke="#2a2a2a" stroke-width="1" />
<line x1="487.5" y1="404.8" x2="498.3" y2="404.8" stroke="#2a2a2a" stroke-width="1" />
<circle cx="413.1" cy="405" r="5.2" fill="#0000EE" stroke="#1a1a1a" stroke-width="0.9"/>
<circle cx="452.95" cy="377.8" r="5.2" fill="#0000EE" stroke="#1a1a1a" stroke-width="0.9"/>
<circle cx="492.9" cy="395.7" r="5.2" fill="#0000EE" stroke="#1a1a1a" stroke-width="0.9"/>
<polyline points="413.1,391.8 452.95,398.8 492.9,401.5" fill="none" stroke="#9CC6F4" stroke-width="2.3" stroke-linejoin="round"/>
<circle cx="413.1" cy="391.8" r="5.2" fill="#9CC6F4" stroke="#1a1a1a" stroke-width="0.9"/>
<circle cx="452.95" cy="398.8" r="5.2" fill="#9CC6F4" stroke="#1a1a1a" stroke-width="0.9"/>
<circle cx="492.9" cy="401.5" r="5.2" fill="#9CC6F4" stroke="#1a1a1a" stroke-width="0.9"/>
<polyline points="413.1,395.3 452.95,389.2 492.9,366.4" fill="none" stroke="#0000EE" stroke-width="2.6" stroke-linejoin="round" stroke-dasharray="3.9 6.4" stroke-linecap="round"/>
<line x1="452.95" y1="377.2" x2="452.95" y2="401.2" stroke="#2a2a2a" stroke-width="1" />
<line x1="447.55" y1="377.2" x2="458.35" y2="377.2" stroke="#2a2a2a" stroke-width="1" />
<line x1="447.55" y1="401.2" x2="458.35" y2="401.2" stroke="#2a2a2a" stroke-width="1" />
<line x1="492.9" y1="351.4" x2="492.9" y2="381.4" stroke="#2a2a2a" stroke-width="1" />
<line x1="487.5" y1="351.4" x2="498.3" y2="351.4" stroke="#2a2a2a" stroke-width="1" />
<line x1="487.5" y1="381.4" x2="498.3" y2="381.4" stroke="#2a2a2a" stroke-width="1" />
<circle cx="413.1" cy="395.3" r="5.2" fill="#0000EE" stroke="#1a1a1a" stroke-width="0.9"/>
<circle cx="452.95" cy="389.2" r="5.2" fill="#0000EE" stroke="#1a1a1a" stroke-width="0.9"/>
<circle cx="492.9" cy="366.4" r="5.2" fill="#0000EE" stroke="#1a1a1a" stroke-width="0.9"/>
<polyline points="413.1,386.2 452.95,379.6 492.9,356.8" fill="none" stroke="#9CC6F4" stroke-width="2.6" stroke-linejoin="round" stroke-dasharray="3.9 6.4" stroke-linecap="round"/>
<line x1="413.1" y1="370.5" x2="413.1" y2="401.9" stroke="#2a2a2a" stroke-width="1" />
<line x1="407.7" y1="370.5" x2="418.5" y2="370.5" stroke="#2a2a2a" stroke-width="1" />
<line x1="407.7" y1="401.9" x2="418.5" y2="401.9" stroke="#2a2a2a" stroke-width="1" />
<line x1="452.95" y1="360.6" x2="452.95" y2="398.6" stroke="#2a2a2a" stroke-width="1" />
<line x1="447.55" y1="360.6" x2="458.35" y2="360.6" stroke="#2a2a2a" stroke-width="1" />
<line x1="447.55" y1="398.6" x2="458.35" y2="398.6" stroke="#2a2a2a" stroke-width="1" />
<line x1="492.9" y1="328.4" x2="492.9" y2="385.2" stroke="#2a2a2a" stroke-width="1" />
<line x1="487.5" y1="328.4" x2="498.3" y2="328.4" stroke="#2a2a2a" stroke-width="1" />
<line x1="487.5" y1="385.2" x2="498.3" y2="385.2" stroke="#2a2a2a" stroke-width="1" />
<circle cx="413.1" cy="386.2" r="5.2" fill="#9CC6F4" stroke="#1a1a1a" stroke-width="0.9"/>
<circle cx="452.95" cy="379.6" r="5.2" fill="#9CC6F4" stroke="#1a1a1a" stroke-width="0.9"/>
<circle cx="492.9" cy="356.8" r="5.2" fill="#9CC6F4" stroke="#1a1a1a" stroke-width="0.9"/>
<line x1="577.6" y1="384.8" x2="577.6" y2="400.6" stroke="#2a2a2a" stroke-width="1" />
<line x1="572.2" y1="384.8" x2="583" y2="384.8" stroke="#2a2a2a" stroke-width="1" />
<line x1="572.2" y1="400.6" x2="583" y2="400.6" stroke="#2a2a2a" stroke-width="1" />
<polyline points="577.6,393.6 617.55,391.8 657.3,405" fill="none" stroke="#9900CC" stroke-width="2.3" stroke-linejoin="round"/>
<circle cx="577.6" cy="393.6" r="5.2" fill="#9900CC" stroke="#1a1a1a" stroke-width="0.9"/>
<circle cx="617.55" cy="391.8" r="5.2" fill="#9900CC" stroke="#1a1a1a" stroke-width="0.9"/>
<circle cx="657.3" cy="405" r="5.2" fill="#9900CC" stroke="#1a1a1a" stroke-width="0.9"/>
<polyline points="577.6,371.7 617.55,382.5 657.3,388.3" fill="none" stroke="#E08CF5" stroke-width="2.3" stroke-linejoin="round"/>
<line x1="577.6" y1="350.7" x2="577.6" y2="392.7" stroke="#2a2a2a" stroke-width="1" />
<line x1="572.2" y1="350.7" x2="583" y2="350.7" stroke="#2a2a2a" stroke-width="1" />
<line x1="572.2" y1="392.7" x2="583" y2="392.7" stroke="#2a2a2a" stroke-width="1" />
<line x1="617.55" y1="365" x2="617.55" y2="400" stroke="#2a2a2a" stroke-width="1" />
<line x1="612.15" y1="365" x2="622.95" y2="365" stroke="#2a2a2a" stroke-width="1" />
<line x1="612.15" y1="400" x2="622.95" y2="400" stroke="#2a2a2a" stroke-width="1" />
<circle cx="577.6" cy="371.7" r="5.2" fill="#E08CF5" stroke="#1a1a1a" stroke-width="0.9"/>
<circle cx="617.55" cy="382.5" r="5.2" fill="#E08CF5" stroke="#1a1a1a" stroke-width="0.9"/>
<circle cx="657.3" cy="388.3" r="5.2" fill="#E08CF5" stroke="#1a1a1a" stroke-width="0.9"/>
<polyline points="577.6,405 617.55,405 657.3,396.6" fill="none" stroke="#9900CC" stroke-width="2.6" stroke-linejoin="round" stroke-dasharray="3.9 6.4" stroke-linecap="round"/>
<circle cx="577.6" cy="405" r="5.2" fill="#9900CC" stroke="#1a1a1a" stroke-width="0.9"/>
<circle cx="617.55" cy="405" r="5.2" fill="#9900CC" stroke="#1a1a1a" stroke-width="0.9"/>
<circle cx="657.3" cy="396.6" r="5.2" fill="#9900CC" stroke="#1a1a1a" stroke-width="0.9"/>
<polyline points="577.6,391.8 617.55,398.5 657.3,376.4" fill="none" stroke="#E08CF5" stroke-width="2.6" stroke-linejoin="round" stroke-dasharray="3.9 6.4" stroke-linecap="round"/>
<line x1="657.3" y1="362.4" x2="657.3" y2="390.4" stroke="#2a2a2a" stroke-width="1" />
<line x1="651.9" y1="362.4" x2="662.7" y2="362.4" stroke="#2a2a2a" stroke-width="1" />
<line x1="651.9" y1="390.4" x2="662.7" y2="390.4" stroke="#2a2a2a" stroke-width="1" />
<circle cx="577.6" cy="391.8" r="5.2" fill="#E08CF5" stroke="#1a1a1a" stroke-width="0.9"/>
<circle cx="617.55" cy="398.5" r="5.2" fill="#E08CF5" stroke="#1a1a1a" stroke-width="0.9"/>
<circle cx="657.3" cy="376.4" r="5.2" fill="#E08CF5" stroke="#1a1a1a" stroke-width="0.9"/>
<line x1="124.35" y1="494.2" x2="124.35" y2="518" stroke="#2a2a2a" stroke-width="1" />
<line x1="120.35" y1="494.2" x2="128.35" y2="494.2" stroke="#2a2a2a" stroke-width="1" />
<line x1="120.35" y1="497" x2="128.35" y2="497" stroke="#2a2a2a" stroke-width="1" />
<line x1="120.35" y1="500" x2="128.35" y2="500" stroke="#2a2a2a" stroke-width="1" />
<line x1="120.35" y1="505" x2="128.35" y2="505" stroke="#2a2a2a" stroke-width="1" />
<line x1="120.35" y1="510" x2="128.35" y2="510" stroke="#2a2a2a" stroke-width="1" />
<line x1="120.35" y1="513" x2="128.35" y2="513" stroke="#2a2a2a" stroke-width="1" />
<line x1="120.35" y1="516" x2="128.35" y2="516" stroke="#2a2a2a" stroke-width="1" />
<line x1="120.35" y1="518" x2="128.35" y2="518" stroke="#2a2a2a" stroke-width="1" />
<polyline points="84.45,491.2 124.35,505.9 164.05,516.6" fill="none" stroke="#FF0000" stroke-width="2.3" stroke-linejoin="round"/>
<polygon points="80.25,487.6 88.65,487.6 84.45,494.8" fill="#FF0000" stroke="#1a1a1a" stroke-width="0.9" stroke-linejoin="miter"/>
<polygon points="120.15,502.3 128.55,502.3 124.35,509.5" fill="#FF0000" stroke="#1a1a1a" stroke-width="0.9" stroke-linejoin="miter"/>
<polygon points="159.85,513 168.25,513 164.05,520.2" fill="#FF0000" stroke="#1a1a1a" stroke-width="0.9" stroke-linejoin="miter"/>
<polyline points="84.45,502 124.35,545.8 164.05,559" fill="none" stroke="#A000EE" stroke-width="2.6" stroke-linejoin="round" stroke-dasharray="3.9 6.4" stroke-linecap="round"/>
<circle cx="84.45" cy="502" r="3.9" fill="#A000EE" stroke="#1a1a1a" stroke-width="0.9"/>
<circle cx="124.35" cy="545.8" r="3.9" fill="#A000EE" stroke="#1a1a1a" stroke-width="0.9"/>
<circle cx="164.05" cy="559" r="3.9" fill="#A000EE" stroke="#1a1a1a" stroke-width="0.9"/>
<polyline points="84.45,496.8 124.35,524.5 164.05,552" fill="none" stroke="#8888FF" stroke-width="2.6" stroke-linejoin="round" stroke-dasharray="3.9 6.4" stroke-linecap="round"/>
<line x1="124.35" y1="515.8" x2="124.35" y2="533.2" stroke="#2a2a2a" stroke-width="1" />
<line x1="120.35" y1="515.8" x2="128.35" y2="515.8" stroke="#2a2a2a" stroke-width="1" />
<line x1="120.35" y1="533.2" x2="128.35" y2="533.2" stroke="#2a2a2a" stroke-width="1" />
<circle cx="84.45" cy="496.8" r="3.9" fill="#8888FF" stroke="#1a1a1a" stroke-width="0.9"/>
<circle cx="124.35" cy="524.5" r="3.9" fill="#8888FF" stroke="#1a1a1a" stroke-width="0.9"/>
<circle cx="164.05" cy="552" r="3.9" fill="#8888FF" stroke="#1a1a1a" stroke-width="0.9"/>
<polyline points="84.45,509 124.35,550.7 164.05,556.4" fill="none" stroke="#FF0000" stroke-width="2.6" stroke-linejoin="round" stroke-dasharray="3.9 6.4" stroke-linecap="round"/>
<circle cx="84.45" cy="509" r="3.9" fill="#FF0000" stroke="#1a1a1a" stroke-width="0.9"/>
<circle cx="124.35" cy="550.7" r="3.9" fill="#FF0000" stroke="#1a1a1a" stroke-width="0.9"/>
<circle cx="164.05" cy="556.4" r="3.9" fill="#FF0000" stroke="#1a1a1a" stroke-width="0.9"/>
<polyline points="84.45,482.8 124.35,500.6 164.05,524.8" fill="none" stroke="#8888FF" stroke-width="2.3" stroke-linejoin="round"/>
<line x1="84.45" y1="469.6" x2="84.45" y2="496" stroke="#2a2a2a" stroke-width="1" />
<line x1="80.45" y1="469.6" x2="88.45" y2="469.6" stroke="#2a2a2a" stroke-width="1" />
<line x1="80.45" y1="496" x2="88.45" y2="496" stroke="#2a2a2a" stroke-width="1" />
<polygon points="80.25,479.2 88.65,479.2 84.45,486.4" fill="#8888FF" stroke="#1a1a1a" stroke-width="0.9" stroke-linejoin="miter"/>
<polygon points="120.15,497 128.55,497 124.35,504.2" fill="#8888FF" stroke="#1a1a1a" stroke-width="0.9" stroke-linejoin="miter"/>
<polygon points="159.85,521.2 168.25,521.2 164.05,528.4" fill="#8888FF" stroke="#1a1a1a" stroke-width="0.9" stroke-linejoin="miter"/>
<polyline points="84.45,512.2 124.35,506.4 164.05,526.2" fill="none" stroke="#AE3CEE" stroke-width="2.3" stroke-linejoin="round"/>
<line x1="84.45" y1="506.9" x2="84.45" y2="517.5" stroke="#2a2a2a" stroke-width="1" />
<line x1="80.45" y1="506.9" x2="88.45" y2="506.9" stroke="#2a2a2a" stroke-width="1" />
<line x1="80.45" y1="517.5" x2="88.45" y2="517.5" stroke="#2a2a2a" stroke-width="1" />
<line x1="164.05" y1="520.5" x2="164.05" y2="531.9" stroke="#2a2a2a" stroke-width="1" />
<line x1="160.05" y1="520.5" x2="168.05" y2="520.5" stroke="#2a2a2a" stroke-width="1" />
<line x1="160.05" y1="531.9" x2="168.05" y2="531.9" stroke="#2a2a2a" stroke-width="1" />
<polygon points="80.25,508.6 88.65,508.6 84.45,515.8" fill="#A000EE" stroke="#1a1a1a" stroke-width="0.9" stroke-linejoin="miter"/>
<polygon points="120.15,502.8 128.55,502.8 124.35,510" fill="#A000EE" stroke="#1a1a1a" stroke-width="0.9" stroke-linejoin="miter"/>
<polygon points="159.85,522.6 168.25,522.6 164.05,529.8" fill="#A000EE" stroke="#1a1a1a" stroke-width="0.9" stroke-linejoin="miter"/>
<polyline points="248.6,501.3 288.5,524.5 328.4,532.3" fill="none" stroke="#FF0000" stroke-width="2.3" stroke-linejoin="round"/>
<line x1="328.4" y1="526.6" x2="328.4" y2="538" stroke="#2a2a2a" stroke-width="1" />
<line x1="323" y1="526.6" x2="333.8" y2="526.6" stroke="#2a2a2a" stroke-width="1" />
<line x1="323" y1="538" x2="333.8" y2="538" stroke="#2a2a2a" stroke-width="1" />
<circle cx="248.6" cy="501.3" r="5.2" fill="#FF0000" stroke="#1a1a1a" stroke-width="0.9"/>
<circle cx="288.5" cy="524.5" r="5.2" fill="#FF0000" stroke="#1a1a1a" stroke-width="0.9"/>
<circle cx="328.4" cy="532.3" r="5.2" fill="#FF0000" stroke="#1a1a1a" stroke-width="0.9"/>
<polyline points="248.6,489 288.5,505.7 328.4,517.1" fill="none" stroke="#FFA0A0" stroke-width="2.3" stroke-linejoin="round"/>
<line x1="248.6" y1="483.3" x2="248.6" y2="494.7" stroke="#2a2a2a" stroke-width="1" />
<line x1="243.2" y1="483.3" x2="254" y2="483.3" stroke="#2a2a2a" stroke-width="1" />
<line x1="243.2" y1="494.7" x2="254" y2="494.7" stroke="#2a2a2a" stroke-width="1" />
<line x1="288.5" y1="498.3" x2="288.5" y2="513.1" stroke="#2a2a2a" stroke-width="1" />
<line x1="283.1" y1="498.3" x2="293.9" y2="498.3" stroke="#2a2a2a" stroke-width="1" />
<line x1="283.1" y1="513.1" x2="293.9" y2="513.1" stroke="#2a2a2a" stroke-width="1" />
<line x1="328.4" y1="512.7" x2="328.4" y2="521.5" stroke="#2a2a2a" stroke-width="1" />
<line x1="323" y1="512.7" x2="333.8" y2="512.7" stroke="#2a2a2a" stroke-width="1" />
<line x1="323" y1="521.5" x2="333.8" y2="521.5" stroke="#2a2a2a" stroke-width="1" />
<circle cx="248.6" cy="489" r="5.2" fill="#FFA0A0" stroke="#1a1a1a" stroke-width="0.9"/>
<circle cx="288.5" cy="505.7" r="5.2" fill="#FFA0A0" stroke="#1a1a1a" stroke-width="0.9"/>
<circle cx="328.4" cy="517.1" r="5.2" fill="#FFA0A0" stroke="#1a1a1a" stroke-width="0.9"/>
<polyline points="248.6,515 288.5,552.6 328.4,560.1" fill="none" stroke="#FF0000" stroke-width="2.6" stroke-linejoin="round" stroke-dasharray="3.9 6.4" stroke-linecap="round"/>
<line x1="248.6" y1="510.3" x2="248.6" y2="519.7" stroke="#2a2a2a" stroke-width="1" />
<line x1="243.2" y1="510.3" x2="254" y2="510.3" stroke="#2a2a2a" stroke-width="1" />
<line x1="243.2" y1="519.7" x2="254" y2="519.7" stroke="#2a2a2a" stroke-width="1" />
<circle cx="248.6" cy="515" r="5.2" fill="#FF0000" stroke="#1a1a1a" stroke-width="0.9"/>
<circle cx="288.5" cy="552.6" r="5.2" fill="#FF0000" stroke="#1a1a1a" stroke-width="0.9"/>
<circle cx="328.4" cy="560.1" r="5.2" fill="#FF0000" stroke="#1a1a1a" stroke-width="0.9"/>
<polyline points="248.6,503.8 288.5,549.3 328.4,553.1" fill="none" stroke="#FFA0A0" stroke-width="2.6" stroke-linejoin="round" stroke-dasharray="3.9 6.4" stroke-linecap="round"/>
<circle cx="248.6" cy="503.8" r="5.2" fill="#FFA0A0" stroke="#1a1a1a" stroke-width="0.9"/>
<circle cx="288.5" cy="549.3" r="5.2" fill="#FFA0A0" stroke="#1a1a1a" stroke-width="0.9"/>
<circle cx="328.4" cy="553.1" r="5.2" fill="#FFA0A0" stroke="#1a1a1a" stroke-width="0.9"/>
<line x1="413.1" y1="505.7" x2="413.1" y2="507.6" stroke="#2a2a2a" stroke-width="1" />
<line x1="407.7" y1="505.7" x2="418.5" y2="505.7" stroke="#2a2a2a" stroke-width="1" />
<line x1="407.7" y1="507.6" x2="418.5" y2="507.6" stroke="#2a2a2a" stroke-width="1" />
<line x1="447.55" y1="517.7" x2="458.35" y2="517.7" stroke="#2a2a2a" stroke-width="1" />
<polyline points="413.1,495.9 452.95,487.7 492.9,521" fill="none" stroke="#0000EE" stroke-width="2.3" stroke-linejoin="round"/>
<line x1="452.95" y1="468.4" x2="452.95" y2="507" stroke="#2a2a2a" stroke-width="1" />
<line x1="447.55" y1="468.4" x2="458.35" y2="468.4" stroke="#2a2a2a" stroke-width="1" />
<line x1="447.55" y1="507" x2="458.35" y2="507" stroke="#2a2a2a" stroke-width="1" />
<circle cx="413.1" cy="495.9" r="5.2" fill="#0000EE" stroke="#1a1a1a" stroke-width="0.9"/>
<circle cx="452.95" cy="487.7" r="5.2" fill="#0000EE" stroke="#1a1a1a" stroke-width="0.9"/>
<circle cx="492.9" cy="521" r="5.2" fill="#0000EE" stroke="#1a1a1a" stroke-width="0.9"/>
<polyline points="413.1,477.6 452.95,500 492.9,522.2" fill="none" stroke="#9CC6F4" stroke-width="2.3" stroke-linejoin="round"/>
<line x1="413.1" y1="454.1" x2="413.1" y2="501.1" stroke="#2a2a2a" stroke-width="1" />
<line x1="407.7" y1="454.1" x2="418.5" y2="454.1" stroke="#2a2a2a" stroke-width="1" />
<line x1="407.7" y1="501.1" x2="418.5" y2="501.1" stroke="#2a2a2a" stroke-width="1" />
<line x1="492.9" y1="516.8" x2="492.9" y2="527.6" stroke="#2a2a2a" stroke-width="1" />
<line x1="487.5" y1="516.8" x2="498.3" y2="516.8" stroke="#2a2a2a" stroke-width="1" />
<line x1="487.5" y1="527.6" x2="498.3" y2="527.6" stroke="#2a2a2a" stroke-width="1" />
<line x1="452.95" y1="487.6" x2="452.95" y2="512.4" stroke="#2a2a2a" stroke-width="1" />
<line x1="447.55" y1="487.6" x2="458.35" y2="487.6" stroke="#2a2a2a" stroke-width="1" />
<line x1="447.55" y1="512.4" x2="458.35" y2="512.4" stroke="#2a2a2a" stroke-width="1" />
<circle cx="413.1" cy="477.6" r="5.2" fill="#9CC6F4" stroke="#1a1a1a" stroke-width="0.9"/>
<circle cx="452.95" cy="500" r="5.2" fill="#9CC6F4" stroke="#1a1a1a" stroke-width="0.9"/>
<circle cx="492.9" cy="522.2" r="5.2" fill="#9CC6F4" stroke="#1a1a1a" stroke-width="0.9"/>
<polyline points="413.1,497 452.95,522 492.9,556.6" fill="none" stroke="#0000EE" stroke-width="2.6" stroke-linejoin="round" stroke-dasharray="3.9 6.4" stroke-linecap="round"/>
<line x1="452.95" y1="510.7" x2="452.95" y2="533.3" stroke="#2a2a2a" stroke-width="1" />
<line x1="447.55" y1="510.7" x2="458.35" y2="510.7" stroke="#2a2a2a" stroke-width="1" />
<line x1="447.55" y1="533.3" x2="458.35" y2="533.3" stroke="#2a2a2a" stroke-width="1" />
<circle cx="413.1" cy="497" r="5.2" fill="#0000EE" stroke="#1a1a1a" stroke-width="0.9"/>
<circle cx="452.95" cy="522" r="5.2" fill="#0000EE" stroke="#1a1a1a" stroke-width="0.9"/>
<circle cx="492.9" cy="556.6" r="5.2" fill="#0000EE" stroke="#1a1a1a" stroke-width="0.9"/>
<polyline points="413.1,498.5 452.95,525.1 492.9,547.5" fill="none" stroke="#9CC6F4" stroke-width="2.6" stroke-linejoin="round" stroke-dasharray="3.9 6.4" stroke-linecap="round"/>
<line x1="452.95" y1="510.3" x2="452.95" y2="539.9" stroke="#2a2a2a" stroke-width="1" />
<line x1="447.55" y1="510.3" x2="458.35" y2="510.3" stroke="#2a2a2a" stroke-width="1" />
<line x1="447.55" y1="539.9" x2="458.35" y2="539.9" stroke="#2a2a2a" stroke-width="1" />
<circle cx="413.1" cy="498.5" r="5.2" fill="#9CC6F4" stroke="#1a1a1a" stroke-width="0.9"/>
<circle cx="452.95" cy="525.1" r="5.2" fill="#9CC6F4" stroke="#1a1a1a" stroke-width="0.9"/>
<circle cx="492.9" cy="547.5" r="5.2" fill="#9CC6F4" stroke="#1a1a1a" stroke-width="0.9"/>
<polyline points="577.6,510.7 617.55,518.4 657.3,527" fill="none" stroke="#9900CC" stroke-width="2.3" stroke-linejoin="round"/>
<line x1="617.55" y1="509.9" x2="617.55" y2="526.9" stroke="#2a2a2a" stroke-width="1" />
<line x1="612.15" y1="509.9" x2="622.95" y2="509.9" stroke="#2a2a2a" stroke-width="1" />
<line x1="612.15" y1="526.9" x2="622.95" y2="526.9" stroke="#2a2a2a" stroke-width="1" />
<circle cx="577.6" cy="510.7" r="5.2" fill="#9900CC" stroke="#1a1a1a" stroke-width="0.9"/>
<circle cx="617.55" cy="518.4" r="5.2" fill="#9900CC" stroke="#1a1a1a" stroke-width="0.9"/>
<circle cx="657.3" cy="527" r="5.2" fill="#9900CC" stroke="#1a1a1a" stroke-width="0.9"/>
<polyline points="577.6,515.6 617.55,512 657.3,527.8" fill="none" stroke="#E08CF5" stroke-width="2.3" stroke-linejoin="round"/>
<line x1="577.6" y1="509.7" x2="577.6" y2="521.5" stroke="#2a2a2a" stroke-width="1" />
<line x1="572.2" y1="509.7" x2="583" y2="509.7" stroke="#2a2a2a" stroke-width="1" />
<line x1="572.2" y1="521.5" x2="583" y2="521.5" stroke="#2a2a2a" stroke-width="1" />
<line x1="617.55" y1="499.2" x2="617.55" y2="524.8" stroke="#2a2a2a" stroke-width="1" />
<line x1="612.15" y1="499.2" x2="622.95" y2="499.2" stroke="#2a2a2a" stroke-width="1" />
<line x1="612.15" y1="524.8" x2="622.95" y2="524.8" stroke="#2a2a2a" stroke-width="1" />
<line x1="657.3" y1="522.9" x2="657.3" y2="532.7" stroke="#2a2a2a" stroke-width="1" />
<line x1="651.9" y1="522.9" x2="662.7" y2="522.9" stroke="#2a2a2a" stroke-width="1" />
<line x1="651.9" y1="532.7" x2="662.7" y2="532.7" stroke="#2a2a2a" stroke-width="1" />
<circle cx="577.6" cy="515.6" r="5.2" fill="#E08CF5" stroke="#1a1a1a" stroke-width="0.9"/>
<circle cx="617.55" cy="512" r="5.2" fill="#E08CF5" stroke="#1a1a1a" stroke-width="0.9"/>
<circle cx="657.3" cy="527.8" r="5.2" fill="#E08CF5" stroke="#1a1a1a" stroke-width="0.9"/>
<polyline points="577.6,507.8 617.55,550.8 657.3,560.9" fill="none" stroke="#9900CC" stroke-width="2.6" stroke-linejoin="round" stroke-dasharray="3.9 6.4" stroke-linecap="round"/>
<circle cx="577.6" cy="507.8" r="5.2" fill="#9900CC" stroke="#1a1a1a" stroke-width="0.9"/>
<circle cx="617.55" cy="550.8" r="5.2" fill="#9900CC" stroke="#1a1a1a" stroke-width="0.9"/>
<circle cx="657.3" cy="560.9" r="5.2" fill="#9900CC" stroke="#1a1a1a" stroke-width="0.9"/>
<polyline points="577.6,495.9 617.55,543 657.3,556.3" fill="none" stroke="#E08CF5" stroke-width="2.6" stroke-linejoin="round" stroke-dasharray="3.9 6.4" stroke-linecap="round"/>
<line x1="577.6" y1="487.7" x2="577.6" y2="504.1" stroke="#2a2a2a" stroke-width="1" />
<line x1="572.2" y1="487.7" x2="583" y2="487.7" stroke="#2a2a2a" stroke-width="1" />
<line x1="572.2" y1="504.1" x2="583" y2="504.1" stroke="#2a2a2a" stroke-width="1" />
<circle cx="577.6" cy="495.9" r="5.2" fill="#E08CF5" stroke="#1a1a1a" stroke-width="0.9"/>
<circle cx="617.55" cy="543" r="5.2" fill="#E08CF5" stroke="#1a1a1a" stroke-width="0.9"/>
<circle cx="657.3" cy="556.3" r="5.2" fill="#E08CF5" stroke="#1a1a1a" stroke-width="0.9"/>
<line x1="84.1" y1="677.6" x2="84.1" y2="718.4" stroke="#2a2a2a" stroke-width="1" />
<line x1="80.1" y1="677.6" x2="88.1" y2="677.6" stroke="#2a2a2a" stroke-width="1" />
<line x1="80.1" y1="681.4" x2="88.1" y2="681.4" stroke="#2a2a2a" stroke-width="1" />
<line x1="80.1" y1="683.3" x2="88.1" y2="683.3" stroke="#2a2a2a" stroke-width="1" />
<line x1="80.1" y1="718.4" x2="88.1" y2="718.4" stroke="#2a2a2a" stroke-width="1" />
<line x1="123.4" y1="658.6" x2="123.4" y2="727" stroke="#2a2a2a" stroke-width="1" />
<line x1="119.4" y1="658.6" x2="127.4" y2="658.6" stroke="#2a2a2a" stroke-width="1" />
<line x1="119.4" y1="670.9" x2="127.4" y2="670.9" stroke="#2a2a2a" stroke-width="1" />
<line x1="119.4" y1="672.8" x2="127.4" y2="672.8" stroke="#2a2a2a" stroke-width="1" />
<line x1="119.4" y1="727" x2="127.4" y2="727" stroke="#2a2a2a" stroke-width="1" />
<line x1="162.6" y1="605.4" x2="162.6" y2="726" stroke="#2a2a2a" stroke-width="1" />
<line x1="158.6" y1="605.4" x2="166.6" y2="605.4" stroke="#2a2a2a" stroke-width="1" />
<line x1="158.6" y1="625.4" x2="166.6" y2="625.4" stroke="#2a2a2a" stroke-width="1" />
<line x1="158.6" y1="641.5" x2="166.6" y2="641.5" stroke="#2a2a2a" stroke-width="1" />
<line x1="158.6" y1="718.4" x2="166.6" y2="718.4" stroke="#2a2a2a" stroke-width="1" />
<line x1="158.6" y1="721.2" x2="166.6" y2="721.2" stroke="#2a2a2a" stroke-width="1" />
<line x1="158.6" y1="726" x2="166.6" y2="726" stroke="#2a2a2a" stroke-width="1" />
<polyline points="84.1,699 123.4,687 162.6,686" fill="none" stroke="#A64BD6" stroke-width="2.3" stroke-linejoin="round"/>
<polygon points="79.9,695.4 88.3,695.4 84.1,702.6" fill="#A64BD6" stroke="#1a1a1a" stroke-width="0.9" stroke-linejoin="miter"/>
<polygon points="119.2,683.4 127.6,683.4 123.4,690.6" fill="#A64BD6" stroke="#1a1a1a" stroke-width="0.9" stroke-linejoin="miter"/>
<polygon points="158.4,682.4 166.8,682.4 162.6,689.6" fill="#A64BD6" stroke="#1a1a1a" stroke-width="0.9" stroke-linejoin="miter"/>
<polyline points="84.1,703 123.4,693.7 162.6,670.9" fill="none" stroke="#8888FF" stroke-width="2.3" stroke-linejoin="round"/>
<polygon points="79.9,699.4 88.3,699.4 84.1,706.6" fill="#8888FF" stroke="#1a1a1a" stroke-width="0.9" stroke-linejoin="miter"/>
<polygon points="119.2,690.1 127.6,690.1 123.4,697.3" fill="#8888FF" stroke="#1a1a1a" stroke-width="0.9" stroke-linejoin="miter"/>
<polygon points="158.4,667.3 166.8,667.3 162.6,674.5" fill="#8888FF" stroke="#1a1a1a" stroke-width="0.9" stroke-linejoin="miter"/>
<polyline points="84.1,704 123.4,685.1 162.6,687" fill="none" stroke="#FF0000" stroke-width="2.3" stroke-linejoin="round"/>
<polygon points="79.9,700.4 88.3,700.4 84.1,707.6" fill="#FF0000" stroke="#1a1a1a" stroke-width="0.9" stroke-linejoin="miter"/>
<polygon points="119.2,681.5 127.6,681.5 123.4,688.7" fill="#FF0000" stroke="#1a1a1a" stroke-width="0.9" stroke-linejoin="miter"/>
<polygon points="158.4,683.4 166.8,683.4 162.6,690.6" fill="#FF0000" stroke="#1a1a1a" stroke-width="0.9" stroke-linejoin="miter"/>
<polyline points="84.1,699.8 123.4,722 162.6,684.2" fill="none" stroke="#A64BD6" stroke-width="2.6" stroke-linejoin="round" stroke-dasharray="3.9 6.4" stroke-linecap="round"/>
<circle cx="84.1" cy="699.8" r="3.9" fill="#A64BD6" stroke="#1a1a1a" stroke-width="0.9"/>
<circle cx="123.4" cy="722" r="3.9" fill="#A64BD6" stroke="#1a1a1a" stroke-width="0.9"/>
<circle cx="162.6" cy="684.2" r="3.9" fill="#A64BD6" stroke="#1a1a1a" stroke-width="0.9"/>
<polyline points="84.1,710.4 123.4,720.3 162.6,704.7" fill="none" stroke="#8888FF" stroke-width="2.6" stroke-linejoin="round" stroke-dasharray="3.9 6.4" stroke-linecap="round"/>
<circle cx="84.1" cy="710.4" r="3.9" fill="#8888FF" stroke="#1a1a1a" stroke-width="0.9"/>
<circle cx="123.4" cy="720.3" r="3.9" fill="#8888FF" stroke="#1a1a1a" stroke-width="0.9"/>
<circle cx="162.6" cy="704.7" r="3.9" fill="#8888FF" stroke="#1a1a1a" stroke-width="0.9"/>
<polyline points="84.1,694.1 123.4,709.8 162.6,657.6" fill="none" stroke="#FF0000" stroke-width="2.6" stroke-linejoin="round" stroke-dasharray="3.9 6.4" stroke-linecap="round"/>
<circle cx="84.1" cy="694.1" r="3.9" fill="#FF0000" stroke="#1a1a1a" stroke-width="0.9"/>
<circle cx="123.4" cy="709.8" r="3.9" fill="#FF0000" stroke="#1a1a1a" stroke-width="0.9"/>
<circle cx="162.6" cy="657.6" r="3.9" fill="#FF0000" stroke="#1a1a1a" stroke-width="0.9"/>
<line x1="249.8" y1="685.7" x2="249.8" y2="713.6" stroke="#2a2a2a" stroke-width="1" />
<line x1="244.4" y1="685.7" x2="255.2" y2="685.7" stroke="#2a2a2a" stroke-width="1" />
<line x1="244.4" y1="713.6" x2="255.2" y2="713.6" stroke="#2a2a2a" stroke-width="1" />
<polyline points="249.8,700 289.2,674.3 328.6,686.1" fill="none" stroke="#FF0000" stroke-width="2.3" stroke-linejoin="round"/>
<line x1="289.2" y1="657.6" x2="289.2" y2="691" stroke="#2a2a2a" stroke-width="1" />
<line x1="283.8" y1="657.6" x2="294.6" y2="657.6" stroke="#2a2a2a" stroke-width="1" />
<line x1="283.8" y1="691" x2="294.6" y2="691" stroke="#2a2a2a" stroke-width="1" />
<circle cx="249.8" cy="700" r="5.2" fill="#FF0000" stroke="#1a1a1a" stroke-width="0.9"/>
<circle cx="289.2" cy="674.3" r="5.2" fill="#FF0000" stroke="#1a1a1a" stroke-width="0.9"/>
<circle cx="328.6" cy="686.1" r="5.2" fill="#FF0000" stroke="#1a1a1a" stroke-width="0.9"/>
<polyline points="249.8,708.9 289.2,691.8 328.6,689.3" fill="none" stroke="#FFA0A0" stroke-width="2.3" stroke-linejoin="round"/>
<line x1="289.2" y1="685.4" x2="289.2" y2="698.2" stroke="#2a2a2a" stroke-width="1" />
<line x1="283.8" y1="685.4" x2="294.6" y2="685.4" stroke="#2a2a2a" stroke-width="1" />
<line x1="283.8" y1="698.2" x2="294.6" y2="698.2" stroke="#2a2a2a" stroke-width="1" />
<circle cx="249.8" cy="708.9" r="5.2" fill="#FFA0A0" stroke="#1a1a1a" stroke-width="0.9"/>
<circle cx="289.2" cy="691.8" r="5.2" fill="#FFA0A0" stroke="#1a1a1a" stroke-width="0.9"/>
<circle cx="328.6" cy="689.3" r="5.2" fill="#FFA0A0" stroke="#1a1a1a" stroke-width="0.9"/>
<polyline points="249.8,698.4 289.2,707 328.6,625.7" fill="none" stroke="#FF0000" stroke-width="2.6" stroke-linejoin="round" stroke-dasharray="3.9 6.4" stroke-linecap="round"/>
<line x1="328.6" y1="605.7" x2="328.6" y2="645.7" stroke="#2a2a2a" stroke-width="1" />
<line x1="323.2" y1="605.7" x2="334" y2="605.7" stroke="#2a2a2a" stroke-width="1" />
<line x1="323.2" y1="645.7" x2="334" y2="645.7" stroke="#2a2a2a" stroke-width="1" />
<circle cx="249.8" cy="698.4" r="5.2" fill="#FF0000" stroke="#1a1a1a" stroke-width="0.9"/>
<circle cx="289.2" cy="707" r="5.2" fill="#FF0000" stroke="#1a1a1a" stroke-width="0.9"/>
<circle cx="328.6" cy="625.7" r="5.2" fill="#FF0000" stroke="#1a1a1a" stroke-width="0.9"/>
<polyline points="249.8,692.2 289.2,713.6 328.6,689.3" fill="none" stroke="#FFA0A0" stroke-width="2.6" stroke-linejoin="round" stroke-dasharray="3.9 6.4" stroke-linecap="round"/>
<line x1="328.6" y1="679.8" x2="328.6" y2="698.8" stroke="#2a2a2a" stroke-width="1" />
<line x1="323.2" y1="679.8" x2="334" y2="679.8" stroke="#2a2a2a" stroke-width="1" />
<line x1="323.2" y1="698.8" x2="334" y2="698.8" stroke="#2a2a2a" stroke-width="1" />
<circle cx="249.8" cy="692.2" r="5.2" fill="#FFA0A0" stroke="#1a1a1a" stroke-width="0.9"/>
<circle cx="289.2" cy="713.6" r="5.2" fill="#FFA0A0" stroke="#1a1a1a" stroke-width="0.9"/>
<circle cx="328.6" cy="689.3" r="5.2" fill="#FFA0A0" stroke="#1a1a1a" stroke-width="0.9"/>
<line x1="407.7" y1="696.6" x2="418.5" y2="696.6" stroke="#2a2a2a" stroke-width="1" />
<polyline points="413.1,701.6 452.95,701 492.9,689.9" fill="none" stroke="#0000EE" stroke-width="2.3" stroke-linejoin="round"/>
<line x1="452.95" y1="692.8" x2="452.95" y2="709.2" stroke="#2a2a2a" stroke-width="1" />
<line x1="447.55" y1="692.8" x2="458.35" y2="692.8" stroke="#2a2a2a" stroke-width="1" />
<line x1="447.55" y1="709.2" x2="458.35" y2="709.2" stroke="#2a2a2a" stroke-width="1" />
<line x1="492.9" y1="678.2" x2="492.9" y2="701.6" stroke="#2a2a2a" stroke-width="1" />
<line x1="487.5" y1="678.2" x2="498.3" y2="678.2" stroke="#2a2a2a" stroke-width="1" />
<line x1="487.5" y1="701.6" x2="498.3" y2="701.6" stroke="#2a2a2a" stroke-width="1" />
<circle cx="413.1" cy="701.6" r="5.2" fill="#0000EE" stroke="#1a1a1a" stroke-width="0.9"/>
<circle cx="452.95" cy="701" r="5.2" fill="#0000EE" stroke="#1a1a1a" stroke-width="0.9"/>
<circle cx="492.9" cy="689.9" r="5.2" fill="#0000EE" stroke="#1a1a1a" stroke-width="0.9"/>
<polyline points="413.1,703.4 452.95,691.3 492.9,658" fill="none" stroke="#9CC6F4" stroke-width="2.3" stroke-linejoin="round"/>
<line x1="452.95" y1="683.4" x2="452.95" y2="699.2" stroke="#2a2a2a" stroke-width="1" />
<line x1="447.55" y1="683.4" x2="458.35" y2="683.4" stroke="#2a2a2a" stroke-width="1" />
<line x1="447.55" y1="699.2" x2="458.35" y2="699.2" stroke="#2a2a2a" stroke-width="1" />
<line x1="492.9" y1="637.4" x2="492.9" y2="678.6" stroke="#2a2a2a" stroke-width="1" />
<line x1="487.5" y1="637.4" x2="498.3" y2="637.4" stroke="#2a2a2a" stroke-width="1" />
<line x1="487.5" y1="678.6" x2="498.3" y2="678.6" stroke="#2a2a2a" stroke-width="1" />
<circle cx="413.1" cy="703.4" r="5.2" fill="#9CC6F4" stroke="#1a1a1a" stroke-width="0.9"/>
<circle cx="452.95" cy="691.3" r="5.2" fill="#9CC6F4" stroke="#1a1a1a" stroke-width="0.9"/>
<circle cx="492.9" cy="658" r="5.2" fill="#9CC6F4" stroke="#1a1a1a" stroke-width="0.9"/>
<polyline points="413.1,707.3 452.95,720 492.9,710.9" fill="none" stroke="#0000EE" stroke-width="2.6" stroke-linejoin="round" stroke-dasharray="3.9 6.4" stroke-linecap="round"/>
<line x1="492.9" y1="707.1" x2="492.9" y2="714.7" stroke="#2a2a2a" stroke-width="1" />
<line x1="487.5" y1="707.1" x2="498.3" y2="707.1" stroke="#2a2a2a" stroke-width="1" />
<line x1="487.5" y1="714.7" x2="498.3" y2="714.7" stroke="#2a2a2a" stroke-width="1" />
<circle cx="413.1" cy="707.3" r="5.2" fill="#0000EE" stroke="#1a1a1a" stroke-width="0.9"/>
<circle cx="452.95" cy="720" r="5.2" fill="#0000EE" stroke="#1a1a1a" stroke-width="0.9"/>
<circle cx="492.9" cy="710.9" r="5.2" fill="#0000EE" stroke="#1a1a1a" stroke-width="0.9"/>
<polyline points="413.1,711.5 452.95,720.7 492.9,698.3" fill="none" stroke="#9CC6F4" stroke-width="2.6" stroke-linejoin="round" stroke-dasharray="3.9 6.4" stroke-linecap="round"/>
<circle cx="413.1" cy="711.5" r="5.2" fill="#9CC6F4" stroke="#1a1a1a" stroke-width="0.9"/>
<circle cx="452.95" cy="720.7" r="5.2" fill="#9CC6F4" stroke="#1a1a1a" stroke-width="0.9"/>
<circle cx="492.9" cy="698.3" r="5.2" fill="#9CC6F4" stroke="#1a1a1a" stroke-width="0.9"/>
<line x1="577.6" y1="684.7" x2="577.6" y2="686.4" stroke="#2a2a2a" stroke-width="1" />
<line x1="572.2" y1="684.7" x2="583" y2="684.7" stroke="#2a2a2a" stroke-width="1" />
<line x1="572.2" y1="686.4" x2="583" y2="686.4" stroke="#2a2a2a" stroke-width="1" />
<line x1="657.3" y1="670.1" x2="657.3" y2="702.2" stroke="#2a2a2a" stroke-width="1" />
<line x1="651.9" y1="670.1" x2="662.7" y2="670.1" stroke="#2a2a2a" stroke-width="1" />
<line x1="651.9" y1="702.2" x2="662.7" y2="702.2" stroke="#2a2a2a" stroke-width="1" />
<polyline points="577.6,693.4 617.55,680.3 657.3,680.3" fill="none" stroke="#9900CC" stroke-width="2.3" stroke-linejoin="round"/>
<line x1="617.55" y1="674" x2="617.55" y2="686.6" stroke="#2a2a2a" stroke-width="1" />
<line x1="612.15" y1="674" x2="622.95" y2="674" stroke="#2a2a2a" stroke-width="1" />
<line x1="612.15" y1="686.6" x2="622.95" y2="686.6" stroke="#2a2a2a" stroke-width="1" />
<line x1="577.6" y1="686.8" x2="577.6" y2="700" stroke="#2a2a2a" stroke-width="1" />
<line x1="572.2" y1="686.8" x2="583" y2="686.8" stroke="#2a2a2a" stroke-width="1" />
<line x1="572.2" y1="700" x2="583" y2="700" stroke="#2a2a2a" stroke-width="1" />
<circle cx="577.6" cy="693.4" r="5.2" fill="#9900CC" stroke="#1a1a1a" stroke-width="0.9"/>
<circle cx="617.55" cy="680.3" r="5.2" fill="#9900CC" stroke="#1a1a1a" stroke-width="0.9"/>
<circle cx="657.3" cy="680.3" r="5.2" fill="#9900CC" stroke="#1a1a1a" stroke-width="0.9"/>
<polyline points="577.6,711 617.55,694.3 657.3,694.3" fill="none" stroke="#E08CF5" stroke-width="2.3" stroke-linejoin="round"/>
<line x1="617.55" y1="687.3" x2="617.55" y2="701.3" stroke="#2a2a2a" stroke-width="1" />
<line x1="612.15" y1="687.3" x2="622.95" y2="687.3" stroke="#2a2a2a" stroke-width="1" />
<line x1="612.15" y1="701.3" x2="622.95" y2="701.3" stroke="#2a2a2a" stroke-width="1" />
<circle cx="577.6" cy="711" r="5.2" fill="#E08CF5" stroke="#1a1a1a" stroke-width="0.9"/>
<circle cx="617.55" cy="694.3" r="5.2" fill="#E08CF5" stroke="#1a1a1a" stroke-width="0.9"/>
<circle cx="657.3" cy="694.3" r="5.2" fill="#E08CF5" stroke="#1a1a1a" stroke-width="0.9"/>
<polyline points="577.6,695 617.55,720 657.3,689.9" fill="none" stroke="#9900CC" stroke-width="2.6" stroke-linejoin="round" stroke-dasharray="3.9 6.4" stroke-linecap="round"/>
<circle cx="577.6" cy="695" r="5.2" fill="#9900CC" stroke="#1a1a1a" stroke-width="0.9"/>
<circle cx="617.55" cy="720" r="5.2" fill="#9900CC" stroke="#1a1a1a" stroke-width="0.9"/>
<circle cx="657.3" cy="689.9" r="5.2" fill="#9900CC" stroke="#1a1a1a" stroke-width="0.9"/>
<polyline points="577.6,706.2 617.55,722 657.3,677.3" fill="none" stroke="#E08CF5" stroke-width="2.6" stroke-linejoin="round" stroke-dasharray="3.9 6.4" stroke-linecap="round"/>
<line x1="657.3" y1="657.5" x2="657.3" y2="697.1" stroke="#2a2a2a" stroke-width="1" />
<line x1="651.9" y1="657.5" x2="662.7" y2="657.5" stroke="#2a2a2a" stroke-width="1" />
<line x1="651.9" y1="697.1" x2="662.7" y2="697.1" stroke="#2a2a2a" stroke-width="1" />
<circle cx="577.6" cy="706.2" r="5.2" fill="#E08CF5" stroke="#1a1a1a" stroke-width="0.9"/>
<circle cx="617.55" cy="722" r="5.2" fill="#E08CF5" stroke="#1a1a1a" stroke-width="0.9"/>
<circle cx="657.3" cy="677.3" r="5.2" fill="#E08CF5" stroke="#1a1a1a" stroke-width="0.9"/>
<path d="M84.1,156.1L84.1,162.7M81.24,157.75L86.96,161.05M81.24,161.05L86.96,157.75" stroke="#000" stroke-width="1.35" fill="none"/>
<path d="M124.1,132.9L124.1,139.5M121.24,134.55L126.96,137.85M121.24,137.85L126.96,134.55" stroke="#000" stroke-width="1.35" fill="none"/>
<polyline points="72.8,178.1 67.3,178.1 67.3,202.9 72.8,202.9" fill="none" stroke="#000" stroke-width="1.6"/>
<polygon points="72.4,174.5 72.4,181.7 79.6,178.1" fill="#FF0000" stroke="#000" stroke-width="1.1"/>
<polygon points="72.4,199.3 72.4,206.5 79.6,202.9" fill="#8888FF" stroke="#000" stroke-width="1.1"/>
<polyline points="109.6,235.4 105.3,235.4 105.3,244.4 109.6,244.4" fill="none" stroke="#000" stroke-width="1.6"/>
<polygon points="109.3,231.8 109.3,239 116.9,235.4" fill="#FF0000" stroke="#000" stroke-width="1.1"/>
<polygon points="109.3,240.8 109.3,248 116.9,244.4" fill="#A000EE" stroke="#000" stroke-width="1.1"/>
<polyline points="335.7,223.8 342.9,223.8 342.9,236.1 335.7,236.1" fill="none" stroke="#000" stroke-width="1.6"/>
<path d="M348.1,226.3L346.5,234.7M351.2,226.3L349.6,234.7M346,229L352,229M345.6,231.9L351.6,231.9" stroke="#111" stroke-width="1" fill="none"/>
<polyline points="444.7,230.2 437.5,230.2 437.5,240 444.7,240" fill="none" stroke="#000" stroke-width="1.6"/>
<path d="M429,230.3L427.4,238.7M432.1,230.3L430.5,238.7M426.9,233L432.9,233M426.5,235.9L432.5,235.9" stroke="#111" stroke-width="1" fill="none"/>
<path d="M163.6,289.2L163.6,295.8M160.74,290.85L166.46,294.15M160.74,294.15L166.46,290.85" stroke="#000" stroke-width="1.35" fill="none"/>
<polyline points="175.8,324.3 179.5,324.3 179.5,387.4 175.8,387.4" fill="none" stroke="#000" stroke-width="1.6"/>
<polygon points="176.3,320.7 176.3,327.9 169.1,324.3" fill="#FF0000" stroke="#000" stroke-width="1.1"/>
<polygon points="176.8,383.8 176.8,391 169.6,387.4" fill="#A000EE" stroke="#000" stroke-width="1.1"/>
<path d="M124.2,467.6L124.2,474.2M121.34,469.25L127.06,472.55M121.34,472.55L127.06,469.25" stroke="#000" stroke-width="1.35" fill="none"/>
<path d="M164,491.2L164,497.8M161.14,492.85L166.86,496.15M161.14,496.15L166.86,492.85" stroke="#000" stroke-width="1.35" fill="none"/>
<polyline points="112.5,524.5 108.8,524.5 108.8,550.7 112.5,550.7" fill="none" stroke="#000" stroke-width="1.6"/>
<polygon points="112,521 112,528 118.8,524.5" fill="#8888FF" stroke="#000" stroke-width="1.1"/>
<polygon points="112,547.2 112,554.2 118.8,550.7" fill="#FF0000" stroke="#000" stroke-width="1.1"/>
<polyline points="176,552 179.2,552 179.2,560.7 176,560.7" fill="none" stroke="#000" stroke-width="1.6"/>
<polygon points="176.2,548.5 176.2,555.5 169.4,552" fill="#8888FF" stroke="#000" stroke-width="1.1"/>
<polygon points="176.2,557.2 176.2,564.2 169.4,560.7" fill="#A000EE" stroke="#000" stroke-width="1.1"/>
<polyline points="336.3,551.2 343.9,551.2 343.9,564 336.3,564" fill="none" stroke="#000" stroke-width="1.6"/>
<path d="M351.5,554L351.5,560.6M348.64,555.65L354.36,558.95M348.64,558.95L354.36,555.65" stroke="#000" stroke-width="1.35" fill="none"/>
<polyline points="501.3,546.9 508.9,546.9 508.9,559.8 501.3,559.8" fill="none" stroke="#000" stroke-width="1.6"/>
<path d="M515.8,548L514.2,556.4M518.9,548L517.3,556.4M513.7,550.7L519.7,550.7M513.3,553.6L519.3,553.6" stroke="#111" stroke-width="1" fill="none"/>
<polyline points="663.1,551.6 670.4,551.6 670.4,564.5 663.1,564.5" fill="none" stroke="#000" stroke-width="1.6"/>
<path d="M676.2,551.6L676.2,558.2M673.34,553.25L679.06,556.55M673.34,556.55L679.06,553.25" stroke="#000" stroke-width="1.35" fill="none"/>
<path d="M676.2,559.2L676.2,565.8M673.34,560.85L679.06,564.15M673.34,564.15L679.06,560.85" stroke="#000" stroke-width="1.35" fill="none"/>
<path d="M80.1,649.2L80.1,655.8M77.24,650.85L82.96,654.15M77.24,654.15L82.96,650.85" stroke="#000" stroke-width="1.35" fill="none"/>
<path d="M87.1,649.2L87.1,655.8M84.24,650.85L89.96,654.15M84.24,654.15L89.96,650.85" stroke="#000" stroke-width="1.35" fill="none"/>
<path d="M119,620.2L119,626.8M116.14,621.85L121.86,625.15M116.14,625.15L121.86,621.85" stroke="#000" stroke-width="1.35" fill="none"/>
<path d="M126,620.2L126,626.8M123.14,621.85L128.86,625.15M123.14,625.15L128.86,621.85" stroke="#000" stroke-width="1.35" fill="none"/>
<path d="M162.6,596.9L162.6,603.5M159.74,598.55L165.46,601.85M159.74,601.85L165.46,598.55" stroke="#000" stroke-width="1.35" fill="none"/>
<polyline points="72,694.1 68,694.1 68,711.2 72,711.2" fill="none" stroke="#000" stroke-width="1.6"/>
<polygon points="71.8,690.6 71.8,697.6 79,694.1" fill="#FF0000" stroke="#000" stroke-width="1.1"/>
<polygon points="71.8,707.7 71.8,714.7 79,711.2" fill="#8888FF" stroke="#000" stroke-width="1.1"/>
<polyline points="136.5,709.8 138.8,709.8 138.8,721.2 136.5,721.2" fill="none" stroke="#000" stroke-width="1.6"/>
<polygon points="136.5,706.3 136.5,713.3 129.3,709.8" fill="#FF0000" stroke="#000" stroke-width="1.1"/>
<polygon points="136.5,717.7 136.5,724.7 129.3,721.2" fill="#8888FF" stroke="#000" stroke-width="1.1"/>
<polygon points="136.8,721 136.8,727 130.3,724" fill="#A64BD6" stroke="#000" stroke-width="1.1"/>
<polyline points="175.8,657.6 180,657.6 180,704.7 175.8,704.7" fill="none" stroke="#000" stroke-width="1.6"/>
<polygon points="175.9,654.1 175.9,661.1 169.1,657.6" fill="#FF0000" stroke="#000" stroke-width="1.1"/>
<polygon points="175.9,701.2 175.9,708.2 169.1,704.7" fill="#8888FF" stroke="#000" stroke-width="1.1"/>
<polyline points="335.3,625.4 343.5,625.4 343.5,689.9 335.3,689.9" fill="none" stroke="#000" stroke-width="1.6"/>
<path d="M350,655.8L350,662.4M347.14,657.45L352.86,660.75M347.14,660.75L352.86,657.45" stroke="#000" stroke-width="1.35" fill="none"/>
</svg>
</body></html>
